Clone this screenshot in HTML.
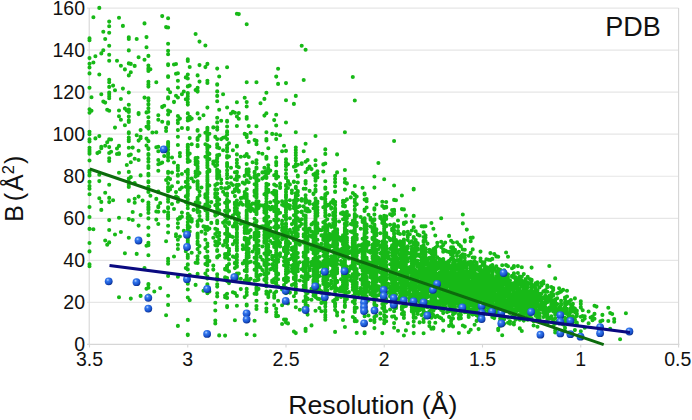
<!DOCTYPE html>
<html><head><meta charset="utf-8"><style>
html,body{margin:0;padding:0;background:#fff;}
svg{display:block;font-family:"Liberation Sans",sans-serif;}
</style></head><body>
<svg width="692" height="420" viewBox="0 0 692 420">
<path d="M87 302.36H678.6 M87 260.32H678.6 M87 218.29H678.6 M87 176.25H678.6 M87 134.21H678.6 M87 92.17H678.6 M87 50.14H678.6 M87 8.10H678.6" stroke="#e6e6e6" stroke-width="1.2" fill="none"/><path d="M89.2 8V344.40M87 344.40H679.5M678.6 8V344.40 M89.50 344.40V347.40 M187.75 344.40V347.40 M286.00 344.40V347.40 M384.25 344.40V347.40 M482.50 344.40V347.40 M580.75 344.40V347.40 M678.60 344.40V347.40" stroke="#d6d6d6" stroke-width="1.1" fill="none"/><g font-size="19.5" fill="#111"><text x="85" y="351.4" text-anchor="end">0</text><text x="85" y="309.4" text-anchor="end">20</text><text x="85" y="267.3" text-anchor="end">40</text><text x="85" y="225.3" text-anchor="end">60</text><text x="85" y="183.2" text-anchor="end">80</text><text x="85" y="141.2" text-anchor="end">100</text><text x="85" y="99.2" text-anchor="end">120</text><text x="85" y="57.1" text-anchor="end">140</text><text x="85" y="15.1" text-anchor="end">160</text><text x="89.5" y="366" text-anchor="middle">3.5</text><text x="187.8" y="366" text-anchor="middle">3</text><text x="286.0" y="366" text-anchor="middle">2.5</text><text x="384.2" y="366" text-anchor="middle">2</text><text x="482.5" y="366" text-anchor="middle">1.5</text><text x="580.8" y="366" text-anchor="middle">1</text><text x="677.8" y="366" text-anchor="middle">0.5</text></g>
<path d="M625.9 313.3h0 M620.1 339.2h0 M614.2 319.0h0 M614.2 321.7h0 M612.2 314.0h0 M610.2 313.0h0 M610.2 328.9h0 M608.3 307.8h0 M608.3 321.0h0 M602.4 314.9h0 M602.4 320.5h0 M600.4 321.4h0 M596.5 306.6h0 M594.5 313.9h0 M594.5 305.7h0 M594.5 318.8h0 M592.5 316.6h0 M592.5 320.2h0 M590.6 317.5h0 M588.6 323.2h0 M588.6 311.5h0 M584.7 327.7h0 M584.7 316.2h0 M584.7 318.6h0 M582.7 310.2h0 M582.7 316.0h0 M582.7 320.5h0 M580.8 307.6h0 M580.8 301.3h0 M580.8 303.9h0 M580.8 316.8h0 M580.8 307.1h0 M580.8 331.3h0 M576.8 314.3h0 M576.8 324.5h0 M576.8 316.0h0 M576.8 323.2h0 M576.8 310.5h0 M576.8 322.5h0 M576.8 310.9h0 M576.8 313.5h0 M574.9 309.4h0 M574.9 319.4h0 M574.9 308.5h0 M574.9 298.4h0 M574.9 312.1h0 M574.9 310.1h0 M574.9 330.1h0 M572.9 307.5h0 M572.9 303.9h0 M572.9 311.2h0 M572.9 311.3h0 M572.9 316.4h0 M572.9 322.3h0 M572.9 308.2h0 M570.9 304.5h0 M570.9 300.0h0 M570.9 307.9h0 M570.9 316.4h0 M570.9 318.2h0 M570.9 310.4h0 M570.9 309.3h0 M570.9 312.0h0 M569.0 316.0h0 M569.0 316.8h0 M569.0 314.7h0 M569.0 301.5h0 M567.0 302.2h0 M567.0 313.9h0 M567.0 322.9h0 M567.0 303.4h0 M567.0 290.8h0 M567.0 311.0h0 M567.0 312.6h0 M567.0 303.9h0 M567.0 319.3h0 M567.0 308.9h0 M567.0 296.5h0 M567.0 311.9h0 M565.0 331.3h0 M565.0 297.5h0 M565.0 313.0h0 M565.0 299.3h0 M565.0 320.7h0 M565.0 304.1h0 M565.0 302.3h0 M565.0 306.4h0 M565.0 309.9h0 M565.0 311.6h0 M565.0 317.7h0 M565.0 327.9h0 M563.1 321.6h0 M563.1 289.9h0 M563.1 309.2h0 M563.1 311.1h0 M563.1 324.5h0 M561.1 311.0h0 M561.1 309.1h0 M561.1 313.3h0 M561.1 300.7h0 M561.1 308.5h0 M561.1 314.0h0 M561.1 305.1h0 M561.1 315.9h0 M561.1 318.6h0 M561.1 303.5h0 M561.1 317.0h0 M561.1 291.6h0 M561.1 309.4h0 M559.1 312.6h0 M559.1 307.5h0 M559.1 309.7h0 M559.1 292.6h0 M559.1 288.2h0 M557.2 321.7h0 M557.2 312.4h0 M557.2 298.3h0 M557.2 293.6h0 M557.2 310.0h0 M557.2 304.1h0 M557.2 313.3h0 M555.2 303.5h0 M555.2 309.9h0 M555.2 318.2h0 M555.2 330.6h0 M555.2 310.6h0 M555.2 299.5h0 M555.2 314.2h0 M555.2 314.5h0 M555.2 323.6h0 M555.2 332.5h0 M555.2 278.4h0 M555.2 300.8h0 M555.2 305.9h0 M555.2 308.5h0 M555.2 307.3h0 M555.2 302.6h0 M555.2 306.9h0 M553.2 326.2h0 M553.2 301.4h0 M553.2 288.1h0 M553.2 305.7h0 M553.2 289.5h0 M553.2 300.6h0 M553.2 304.9h0 M553.2 290.1h0 M553.2 294.4h0 M553.2 311.5h0 M553.2 310.0h0 M553.2 320.5h0 M553.2 308.6h0 M553.2 295.8h0 M551.3 318.2h0 M551.3 303.5h0 M551.3 317.7h0 M551.3 316.2h0 M551.3 296.1h0 M551.3 305.5h0 M551.3 292.7h0 M551.3 308.7h0 M551.3 296.7h0 M551.3 309.4h0 M551.3 308.1h0 M551.3 302.5h0 M551.3 307.5h0 M551.3 304.3h0 M551.3 287.0h0 M551.3 299.7h0 M551.3 300.0h0 M549.3 309.7h0 M549.3 309.8h0 M549.3 318.6h0 M549.3 266.0h0 M549.3 297.0h0 M549.3 311.0h0 M549.3 310.6h0 M549.3 295.7h0 M549.3 300.5h0 M549.3 307.6h0 M547.3 312.3h0 M547.3 318.9h0 M547.3 311.5h0 M547.3 309.7h0 M547.3 313.7h0 M547.3 291.8h0 M547.3 287.2h0 M547.3 317.9h0 M547.3 324.3h0 M547.3 297.6h0 M547.3 324.2h0 M547.3 316.5h0 M547.3 317.1h0 M547.3 301.7h0 M547.3 286.5h0 M547.3 317.6h0 M547.3 314.8h0 M547.3 285.5h0 M547.3 313.9h0 M547.3 302.2h0 M545.4 308.9h0 M545.4 298.4h0 M545.4 302.7h0 M545.4 301.8h0 M545.4 303.8h0 M545.4 307.2h0 M545.4 299.8h0 M545.4 322.7h0 M545.4 295.7h0 M545.4 301.5h0 M545.4 292.0h0 M545.4 314.2h0 M545.4 290.9h0 M545.4 290.2h0 M545.4 296.6h0 M543.4 304.3h0 M543.4 298.2h0 M543.4 303.9h0 M543.4 307.3h0 M543.4 307.8h0 M543.4 310.5h0 M543.4 283.5h0 M543.4 311.7h0 M543.4 291.2h0 M543.4 281.4h0 M543.4 310.9h0 M543.4 313.0h0 M543.4 305.1h0 M543.4 297.6h0 M543.4 317.0h0 M541.5 309.0h0 M541.5 303.1h0 M541.5 285.4h0 M541.5 282.8h0 M541.5 301.4h0 M541.5 299.2h0 M541.5 303.9h0 M541.5 283.8h0 M541.5 308.2h0 M541.5 302.4h0 M541.5 298.5h0 M541.5 303.7h0 M541.5 309.3h0 M541.5 297.4h0 M541.5 293.6h0 M541.5 308.3h0 M539.5 315.5h0 M539.5 318.9h0 M539.5 308.9h0 M539.5 306.8h0 M539.5 313.3h0 M539.5 287.5h0 M539.5 300.2h0 M539.5 309.7h0 M539.5 306.4h0 M539.5 296.2h0 M539.5 294.1h0 M539.5 296.8h0 M539.5 307.6h0 M539.5 322.1h0 M539.5 308.0h0 M537.5 296.1h0 M537.5 282.4h0 M537.5 290.6h0 M537.5 326.8h0 M537.5 317.7h0 M537.5 310.9h0 M537.5 314.2h0 M537.5 305.9h0 M537.5 299.1h0 M537.5 314.4h0 M537.5 283.3h0 M537.5 303.9h0 M537.5 303.4h0 M537.5 292.2h0 M537.5 284.7h0 M537.5 297.0h0 M537.5 294.4h0 M537.5 305.3h0 M537.5 296.6h0 M535.6 285.0h0 M535.6 310.1h0 M535.6 306.1h0 M535.6 315.7h0 M535.6 301.8h0 M535.6 283.3h0 M535.6 295.6h0 M535.6 308.9h0 M535.6 312.1h0 M535.6 304.3h0 M535.6 306.5h0 M535.6 299.0h0 M535.6 291.9h0 M535.6 288.5h0 M535.6 284.5h0 M535.6 297.6h0 M535.6 297.2h0 M533.6 321.2h0 M533.6 309.0h0 M533.6 293.2h0 M533.6 308.3h0 M533.6 303.5h0 M533.6 299.9h0 M533.6 325.5h0 M533.6 305.4h0 M533.6 291.8h0 M533.6 299.7h0 M533.6 296.8h0 M533.6 285.4h0 M533.6 307.5h0 M533.6 286.3h0 M533.6 312.0h0 M531.6 303.1h0 M531.6 289.1h0 M531.6 301.4h0 M531.6 310.2h0 M531.6 295.9h0 M531.6 290.2h0 M531.6 286.5h0 M531.6 280.7h0 M531.6 287.2h0 M531.6 293.4h0 M531.6 288.1h0 M531.6 311.8h0 M531.6 284.2h0 M531.6 298.7h0 M531.6 307.5h0 M531.6 306.2h0 M531.6 298.1h0 M531.6 310.9h0 M531.6 300.7h0 M531.6 293.1h0 M531.6 308.8h0 M531.6 302.1h0 M531.6 318.4h0 M531.6 267.6h0 M531.6 279.8h0 M531.6 284.8h0 M531.6 312.4h0 M529.7 291.1h0 M529.7 283.7h0 M529.7 306.6h0 M529.7 315.1h0 M529.7 308.3h0 M529.7 310.3h0 M529.7 291.6h0 M529.7 301.4h0 M529.7 295.6h0 M529.7 310.1h0 M529.7 303.4h0 M529.7 311.5h0 M529.7 297.6h0 M529.7 302.4h0 M529.7 304.7h0 M529.7 307.0h0 M529.7 279.1h0 M529.7 283.0h0 M529.7 316.3h0 M527.7 298.7h0 M527.7 315.2h0 M527.7 297.6h0 M527.7 303.2h0 M527.7 295.8h0 M527.7 305.2h0 M527.7 304.7h0 M527.7 313.6h0 M527.7 308.0h0 M527.7 314.4h0 M527.7 305.7h0 M527.7 315.6h0 M527.7 319.7h0 M527.7 282.8h0 M527.7 317.8h0 M527.7 276.9h0 M527.7 310.0h0 M527.7 287.3h0 M527.7 291.0h0 M527.7 299.0h0 M527.7 294.6h0 M527.7 292.4h0 M527.7 284.0h0 M525.7 295.0h0 M525.7 280.9h0 M525.7 301.6h0 M525.7 308.4h0 M525.7 304.3h0 M525.7 310.3h0 M525.7 286.7h0 M525.7 312.8h0 M525.7 298.3h0 M525.7 283.9h0 M525.7 313.5h0 M525.7 295.5h0 M525.7 292.3h0 M525.7 308.1h0 M525.7 288.9h0 M525.7 302.5h0 M525.7 292.8h0 M525.7 279.1h0 M525.7 279.8h0 M525.7 292.0h0 M525.7 281.5h0 M525.7 299.0h0 M525.7 307.3h0 M525.7 288.6h0 M525.7 297.5h0 M525.7 305.7h0 M523.8 298.9h0 M523.8 292.1h0 M523.8 314.2h0 M523.8 310.4h0 M523.8 302.2h0 M523.8 289.8h0 M523.8 311.7h0 M523.8 291.7h0 M523.8 287.8h0 M523.8 294.3h0 M523.8 290.4h0 M523.8 306.3h0 M523.8 305.9h0 M523.8 297.6h0 M523.8 294.2h0 M523.8 292.9h0 M523.8 302.6h0 M523.8 305.7h0 M523.8 288.6h0 M523.8 304.1h0 M523.8 302.9h0 M523.8 307.7h0 M523.8 312.3h0 M523.8 285.8h0 M523.8 301.3h0 M523.8 309.7h0 M523.8 274.1h0 M523.8 317.2h0 M523.8 282.1h0 M523.8 296.7h0 M523.8 300.7h0 M523.8 311.9h0 M523.8 320.6h0 M523.8 313.6h0 M523.8 291.1h0 M523.8 300.0h0 M523.8 316.2h0 M523.8 296.9h0 M521.8 292.2h0 M521.8 296.2h0 M521.8 276.7h0 M521.8 303.7h0 M521.8 286.3h0 M521.8 293.8h0 M521.8 302.0h0 M521.8 307.5h0 M521.8 293.3h0 M521.8 282.8h0 M521.8 312.9h0 M521.8 331.0h0 M521.8 299.9h0 M521.8 298.4h0 M521.8 306.0h0 M521.8 280.6h0 M521.8 318.3h0 M521.8 297.7h0 M521.8 267.2h0 M521.8 300.4h0 M519.8 314.1h0 M519.8 283.5h0 M519.8 295.8h0 M519.8 303.7h0 M519.8 302.8h0 M519.8 306.0h0 M519.8 328.4h0 M519.8 309.5h0 M519.8 316.1h0 M519.8 302.3h0 M519.8 304.5h0 M519.8 276.5h0 M519.8 284.7h0 M519.8 294.8h0 M519.8 310.3h0 M519.8 292.9h0 M519.8 299.7h0 M519.8 291.9h0 M519.8 289.2h0 M519.8 280.8h0 M519.8 316.6h0 M519.8 279.4h0 M519.8 319.7h0 M517.9 288.7h0 M517.9 305.9h0 M517.9 283.4h0 M517.9 298.8h0 M517.9 273.0h0 M517.9 297.9h0 M517.9 289.6h0 M517.9 305.0h0 M517.9 300.7h0 M517.9 310.2h0 M517.9 290.1h0 M517.9 293.0h0 M517.9 297.1h0 M517.9 308.4h0 M517.9 304.1h0 M517.9 301.4h0 M517.9 302.8h0 M517.9 290.5h0 M517.9 300.9h0 M517.9 279.2h0 M517.9 266.1h0 M517.9 308.1h0 M517.9 302.4h0 M517.9 296.3h0 M517.9 306.8h0 M517.9 287.9h0 M515.9 286.6h0 M515.9 298.7h0 M515.9 311.5h0 M515.9 303.2h0 M515.9 301.8h0 M515.9 283.9h0 M515.9 319.5h0 M515.9 277.3h0 M515.9 280.4h0 M515.9 285.9h0 M515.9 293.9h0 M515.9 312.4h0 M515.9 288.5h0 M515.9 296.2h0 M515.9 287.7h0 M515.9 310.7h0 M515.9 292.6h0 M515.9 292.9h0 M515.9 306.7h0 M515.9 281.1h0 M515.9 301.6h0 M515.9 278.8h0 M515.9 300.1h0 M515.9 297.6h0 M515.9 298.9h0 M515.9 294.3h0 M513.9 283.0h0 M513.9 311.5h0 M513.9 286.7h0 M513.9 304.7h0 M513.9 291.3h0 M513.9 324.4h0 M513.9 309.9h0 M513.9 277.6h0 M513.9 294.1h0 M513.9 310.5h0 M513.9 303.9h0 M513.9 285.1h0 M513.9 267.1h0 M513.9 298.0h0 M513.9 322.6h0 M513.9 312.8h0 M513.9 317.5h0 M513.9 312.5h0 M513.9 317.0h0 M513.9 273.2h0 M513.9 300.1h0 M513.9 296.3h0 M513.9 314.5h0 M513.9 303.0h0 M513.9 314.1h0 M513.9 301.9h0 M513.9 295.1h0 M513.9 293.1h0 M513.9 289.2h0 M513.9 295.9h0 M513.9 292.4h0 M513.9 274.0h0 M513.9 302.4h0 M513.9 303.7h0 M513.9 305.0h0 M513.9 266.0h0 M513.9 316.4h0 M513.9 301.0h0 M513.9 295.7h0 M513.9 297.4h0 M512.0 311.0h0 M512.0 306.7h0 M512.0 306.2h0 M512.0 301.8h0 M512.0 311.8h0 M512.0 309.6h0 M512.0 304.1h0 M512.0 286.0h0 M512.0 283.9h0 M512.0 308.7h0 M512.0 289.6h0 M512.0 294.2h0 M512.0 316.9h0 M512.0 284.6h0 M512.0 276.7h0 M512.0 288.8h0 M512.0 298.8h0 M512.0 303.5h0 M512.0 294.3h0 M512.0 275.7h0 M512.0 296.4h0 M512.0 268.3h0 M510.0 284.3h0 M510.0 293.2h0 M510.0 311.3h0 M510.0 312.7h0 M510.0 313.0h0 M510.0 291.0h0 M510.0 283.0h0 M510.0 310.5h0 M510.0 302.3h0 M510.0 280.6h0 M510.0 303.6h0 M510.0 288.2h0 M510.0 287.1h0 M510.0 293.7h0 M510.0 305.0h0 M510.0 295.3h0 M510.0 301.7h0 M510.0 293.9h0 M510.0 321.4h0 M510.0 299.2h0 M510.0 307.4h0 M510.0 297.4h0 M510.0 298.5h0 M510.0 288.7h0 M510.0 294.8h0 M510.0 300.7h0 M510.0 323.7h0 M510.0 285.9h0 M508.0 281.6h0 M508.0 296.3h0 M508.0 285.2h0 M508.0 266.2h0 M508.0 287.9h0 M508.0 298.2h0 M508.0 301.8h0 M508.0 294.1h0 M508.0 317.5h0 M508.0 277.0h0 M508.0 256.7h0 M508.0 282.1h0 M508.0 291.5h0 M508.0 307.9h0 M508.0 289.8h0 M508.0 289.0h0 M508.0 287.0h0 M508.0 279.5h0 M508.0 310.3h0 M508.0 310.0h0 M508.0 300.1h0 M508.0 322.8h0 M508.0 307.4h0 M508.0 289.7h0 M508.0 280.4h0 M508.0 304.6h0 M508.0 305.8h0 M508.0 296.9h0 M508.0 309.3h0 M508.0 274.5h0 M506.1 305.7h0 M506.1 302.1h0 M506.1 283.9h0 M506.1 292.4h0 M506.1 273.9h0 M506.1 292.1h0 M506.1 285.5h0 M506.1 303.7h0 M506.1 308.9h0 M506.1 311.1h0 M506.1 305.1h0 M506.1 287.7h0 M506.1 282.9h0 M506.1 278.6h0 M506.1 280.4h0 M506.1 290.4h0 M506.1 310.3h0 M506.1 304.4h0 M506.1 306.1h0 M506.1 279.6h0 M506.1 295.9h0 M506.1 252.5h0 M506.1 279.1h0 M506.1 301.5h0 M506.1 286.1h0 M506.1 307.7h0 M506.1 265.1h0 M506.1 292.9h0 M506.1 295.4h0 M506.1 282.3h0 M506.1 294.7h0 M504.1 303.3h0 M504.1 288.5h0 M504.1 297.9h0 M504.1 295.4h0 M504.1 270.3h0 M504.1 272.8h0 M504.1 275.0h0 M504.1 305.6h0 M504.1 278.0h0 M504.1 297.7h0 M504.1 294.7h0 M504.1 309.5h0 M504.1 281.6h0 M504.1 300.6h0 M504.1 319.2h0 M504.1 303.9h0 M504.1 271.7h0 M504.1 304.8h0 M504.1 323.8h0 M504.1 317.8h0 M504.1 302.4h0 M504.1 279.2h0 M504.1 299.2h0 M504.1 292.2h0 M504.1 276.0h0 M504.1 292.5h0 M504.1 283.3h0 M504.1 308.4h0 M502.2 335.3h0 M502.2 300.4h0 M502.2 278.6h0 M502.2 296.1h0 M502.2 290.5h0 M502.2 296.6h0 M502.2 309.4h0 M502.2 302.8h0 M502.2 282.6h0 M502.2 294.1h0 M502.2 279.5h0 M502.2 280.1h0 M502.2 285.3h0 M502.2 299.6h0 M502.2 292.8h0 M502.2 307.6h0 M502.2 265.2h0 M502.2 301.8h0 M502.2 292.0h0 M502.2 289.0h0 M502.2 295.1h0 M502.2 276.9h0 M502.2 286.9h0 M502.2 305.6h0 M502.2 293.7h0 M502.2 315.5h0 M502.2 287.9h0 M502.2 297.2h0 M502.2 284.7h0 M502.2 292.3h0 M502.2 289.7h0 M502.2 319.9h0 M502.2 281.2h0 M502.2 306.3h0 M500.2 278.9h0 M500.2 292.7h0 M500.2 279.9h0 M500.2 325.7h0 M500.2 308.5h0 M500.2 280.5h0 M500.2 311.3h0 M500.2 312.8h0 M500.2 304.4h0 M500.2 285.5h0 M500.2 273.6h0 M500.2 297.5h0 M500.2 284.9h0 M500.2 293.6h0 M500.2 284.0h0 M500.2 275.8h0 M500.2 302.3h0 M500.2 301.6h0 M500.2 318.6h0 M500.2 290.6h0 M500.2 287.9h0 M500.2 296.7h0 M500.2 286.6h0 M500.2 299.6h0 M500.2 289.0h0 M500.2 302.0h0 M500.2 277.0h0 M500.2 320.5h0 M500.2 269.7h0 M500.2 308.0h0 M500.2 294.9h0 M500.2 276.6h0 M500.2 310.9h0 M500.2 278.2h0 M498.2 290.7h0 M498.2 274.1h0 M498.2 307.2h0 M498.2 292.1h0 M498.2 286.8h0 M498.2 276.8h0 M498.2 300.3h0 M498.2 307.7h0 M498.2 299.4h0 M498.2 328.7h0 M498.2 305.2h0 M498.2 269.5h0 M498.2 285.5h0 M498.2 287.6h0 M498.2 293.6h0 M498.2 309.4h0 M498.2 284.9h0 M498.2 301.4h0 M498.2 282.3h0 M498.2 289.3h0 M498.2 279.9h0 M498.2 296.0h0 M498.2 269.1h0 M498.2 297.8h0 M498.2 294.2h0 M498.2 283.3h0 M498.2 288.6h0 M498.2 281.4h0 M498.2 279.6h0 M498.2 270.4h0 M498.2 303.2h0 M498.2 256.7h0 M498.2 276.5h0 M498.2 298.5h0 M498.2 306.7h0 M498.2 290.1h0 M498.2 305.5h0 M498.2 291.4h0 M498.2 314.3h0 M498.2 330.1h0 M496.3 310.4h0 M496.3 279.6h0 M496.3 266.2h0 M496.3 285.5h0 M496.3 315.2h0 M496.3 311.7h0 M496.3 283.9h0 M496.3 287.3h0 M496.3 289.4h0 M496.3 277.7h0 M496.3 276.1h0 M496.3 300.2h0 M496.3 307.8h0 M496.3 271.9h0 M496.3 305.7h0 M496.3 306.4h0 M496.3 298.1h0 M496.3 286.7h0 M496.3 280.8h0 M496.3 297.2h0 M496.3 290.0h0 M496.3 298.7h0 M496.3 276.6h0 M496.3 284.6h0 M496.3 294.7h0 M496.3 302.0h0 M496.3 283.1h0 M496.3 307.5h0 M496.3 288.3h0 M496.3 301.7h0 M496.3 288.8h0 M496.3 256.4h0 M496.3 309.7h0 M496.3 281.5h0 M496.3 296.5h0 M496.3 284.9h0 M496.3 300.9h0 M494.3 292.7h0 M494.3 294.8h0 M494.3 300.4h0 M494.3 290.0h0 M494.3 296.5h0 M494.3 285.5h0 M494.3 254.0h0 M494.3 269.1h0 M494.3 318.1h0 M494.3 287.7h0 M494.3 298.9h0 M494.3 290.4h0 M494.3 313.1h0 M494.3 290.8h0 M494.3 305.3h0 M494.3 278.8h0 M494.3 287.1h0 M494.3 293.0h0 M494.3 286.1h0 M494.3 317.1h0 M494.3 281.2h0 M494.3 296.9h0 M494.3 308.2h0 M494.3 310.2h0 M494.3 311.6h0 M494.3 281.7h0 M494.3 294.1h0 M494.3 298.7h0 M492.3 316.9h0 M492.3 283.6h0 M492.3 279.5h0 M492.3 299.0h0 M492.3 278.4h0 M492.3 283.2h0 M492.3 302.6h0 M492.3 294.0h0 M492.3 303.1h0 M492.3 286.5h0 M492.3 275.5h0 M492.3 292.1h0 M492.3 280.7h0 M492.3 274.2h0 M492.3 296.0h0 M492.3 311.9h0 M492.3 265.0h0 M492.3 293.2h0 M492.3 299.5h0 M492.3 295.2h0 M492.3 277.8h0 M492.3 279.0h0 M492.3 305.2h0 M492.3 284.8h0 M492.3 258.9h0 M492.3 276.8h0 M492.3 297.6h0 M492.3 297.2h0 M492.3 266.3h0 M492.3 284.7h0 M492.3 308.7h0 M492.3 304.5h0 M492.3 274.7h0 M492.3 301.8h0 M492.3 307.5h0 M492.3 298.5h0 M492.3 300.2h0 M492.3 289.5h0 M492.3 287.9h0 M492.3 311.7h0 M492.3 266.8h0 M492.3 280.0h0 M492.3 290.1h0 M492.3 269.5h0 M492.3 295.6h0 M492.3 271.8h0 M492.3 283.8h0 M492.3 273.2h0 M492.3 301.3h0 M490.4 303.6h0 M490.4 283.9h0 M490.4 306.5h0 M490.4 295.2h0 M490.4 278.8h0 M490.4 292.6h0 M490.4 291.1h0 M490.4 296.5h0 M490.4 269.7h0 M490.4 293.3h0 M490.4 291.9h0 M490.4 308.5h0 M490.4 253.1h0 M490.4 295.6h0 M490.4 287.4h0 M490.4 277.5h0 M490.4 280.4h0 M490.4 290.1h0 M490.4 289.5h0 M490.4 298.5h0 M490.4 288.6h0 M490.4 278.5h0 M490.4 287.9h0 M490.4 304.0h0 M490.4 282.8h0 M490.4 266.4h0 M490.4 313.6h0 M490.4 283.5h0 M490.4 260.0h0 M490.4 304.5h0 M490.4 294.4h0 M490.4 268.8h0 M490.4 305.7h0 M490.4 299.5h0 M490.4 311.2h0 M490.4 281.9h0 M490.4 297.7h0 M490.4 296.2h0 M490.4 298.9h0 M490.4 276.3h0 M490.4 288.9h0 M490.4 293.9h0 M490.4 290.7h0 M488.4 271.4h0 M488.4 275.2h0 M488.4 270.2h0 M488.4 268.0h0 M488.4 311.1h0 M488.4 289.0h0 M488.4 312.3h0 M488.4 297.3h0 M488.4 306.9h0 M488.4 291.2h0 M488.4 294.0h0 M488.4 287.2h0 M488.4 305.2h0 M488.4 272.4h0 M488.4 295.2h0 M488.4 280.2h0 M488.4 283.0h0 M488.4 301.0h0 M488.4 298.6h0 M488.4 281.4h0 M488.4 274.6h0 M488.4 302.6h0 M488.4 290.6h0 M488.4 289.9h0 M488.4 273.0h0 M488.4 296.6h0 M488.4 259.7h0 M488.4 276.0h0 M488.4 275.3h0 M488.4 291.3h0 M488.4 289.6h0 M488.4 279.4h0 M488.4 269.0h0 M488.4 283.7h0 M488.4 308.1h0 M488.4 296.8h0 M488.4 309.9h0 M488.4 287.4h0 M488.4 269.3h0 M486.4 305.4h0 M486.4 281.7h0 M486.4 290.1h0 M486.4 299.3h0 M486.4 297.4h0 M486.4 292.2h0 M486.4 301.9h0 M486.4 267.9h0 M486.4 295.2h0 M486.4 288.0h0 M486.4 259.2h0 M486.4 298.4h0 M486.4 276.6h0 M486.4 307.0h0 M486.4 301.0h0 M486.4 313.8h0 M486.4 293.1h0 M486.4 296.3h0 M486.4 277.7h0 M486.4 270.5h0 M486.4 274.8h0 M486.4 285.5h0 M486.4 283.9h0 M486.4 273.4h0 M486.4 296.1h0 M486.4 297.0h0 M486.4 271.7h0 M486.4 272.5h0 M486.4 303.0h0 M486.4 267.1h0 M486.4 300.2h0 M486.4 273.8h0 M486.4 275.8h0 M484.5 282.3h0 M484.5 296.2h0 M484.5 289.0h0 M484.5 286.2h0 M484.5 309.0h0 M484.5 284.1h0 M484.5 310.5h0 M484.5 292.8h0 M484.5 281.2h0 M484.5 271.9h0 M484.5 293.9h0 M484.5 297.5h0 M484.5 308.6h0 M484.5 273.5h0 M484.5 298.4h0 M484.5 291.1h0 M484.5 295.5h0 M484.5 277.8h0 M484.5 277.5h0 M484.5 291.4h0 M484.5 282.9h0 M484.5 285.6h0 M484.5 294.9h0 M484.5 265.1h0 M484.5 269.2h0 M484.5 283.7h0 M484.5 281.4h0 M484.5 276.1h0 M484.5 313.6h0 M484.5 271.5h0 M484.5 266.1h0 M484.5 262.2h0 M484.5 290.2h0 M484.5 301.7h0 M484.5 300.7h0 M484.5 306.7h0 M484.5 288.0h0 M484.5 279.5h0 M482.5 292.0h0 M482.5 314.5h0 M482.5 271.5h0 M482.5 317.3h0 M482.5 304.8h0 M482.5 280.9h0 M482.5 276.9h0 M482.5 264.8h0 M482.5 272.6h0 M482.5 293.9h0 M482.5 270.7h0 M482.5 287.0h0 M482.5 305.6h0 M482.5 297.7h0 M482.5 294.6h0 M482.5 306.8h0 M482.5 281.4h0 M482.5 292.9h0 M482.5 296.0h0 M482.5 291.4h0 M482.5 306.4h0 M482.5 275.1h0 M482.5 314.9h0 M482.5 297.9h0 M482.5 290.0h0 M482.5 288.4h0 M482.5 262.4h0 M482.5 310.5h0 M482.5 288.9h0 M482.5 283.4h0 M480.5 297.6h0 M480.5 276.6h0 M480.5 300.4h0 M480.5 304.5h0 M480.5 280.0h0 M480.5 274.7h0 M480.5 302.9h0 M480.5 310.8h0 M480.5 314.0h0 M480.5 295.3h0 M480.5 295.1h0 M480.5 286.1h0 M480.5 286.4h0 M480.5 277.3h0 M480.5 281.8h0 M480.5 293.2h0 M480.5 289.4h0 M480.5 292.0h0 M480.5 303.9h0 M480.5 283.8h0 M480.5 290.8h0 M480.5 296.5h0 M480.5 258.5h0 M480.5 277.1h0 M480.5 288.0h0 M480.5 276.0h0 M480.5 251.6h0 M480.5 303.5h0 M480.5 286.9h0 M480.5 266.8h0 M480.5 260.9h0 M480.5 301.4h0 M480.5 271.1h0 M480.5 269.8h0 M480.5 268.8h0 M480.5 297.0h0 M480.5 273.3h0 M480.5 279.4h0 M480.5 290.7h0 M480.5 305.7h0 M480.5 288.4h0 M480.5 281.5h0 M480.5 272.3h0 M480.5 283.1h0 M480.5 316.0h0 M480.5 279.1h0 M478.6 274.2h0 M478.6 270.1h0 M478.6 288.1h0 M478.6 269.6h0 M478.6 277.6h0 M478.6 300.3h0 M478.6 292.2h0 M478.6 274.4h0 M478.6 284.0h0 M478.6 300.1h0 M478.6 296.8h0 M478.6 329.1h0 M478.6 303.9h0 M478.6 293.0h0 M478.6 267.6h0 M478.6 290.0h0 M478.6 302.7h0 M478.6 317.6h0 M478.6 268.0h0 M478.6 290.7h0 M478.6 294.0h0 M478.6 291.7h0 M478.6 288.7h0 M478.6 307.7h0 M478.6 290.8h0 M478.6 281.9h0 M478.6 276.8h0 M478.6 276.2h0 M478.6 275.0h0 M478.6 302.1h0 M478.6 315.8h0 M478.6 289.4h0 M478.6 306.2h0 M478.6 294.3h0 M478.6 305.1h0 M476.6 290.7h0 M476.6 305.8h0 M476.6 286.6h0 M476.6 315.3h0 M476.6 262.8h0 M476.6 282.1h0 M476.6 301.6h0 M476.6 295.8h0 M476.6 267.1h0 M476.6 292.2h0 M476.6 298.4h0 M476.6 290.2h0 M476.6 300.9h0 M476.6 293.7h0 M476.6 265.8h0 M476.6 283.8h0 M476.6 276.1h0 M476.6 282.9h0 M476.6 308.9h0 M476.6 296.3h0 M476.6 274.1h0 M476.6 294.7h0 M476.6 288.1h0 M476.6 277.0h0 M476.6 304.1h0 M476.6 303.1h0 M476.6 291.0h0 M476.6 263.5h0 M476.6 294.0h0 M476.6 307.5h0 M476.6 279.3h0 M476.6 289.2h0 M476.6 289.7h0 M476.6 278.2h0 M476.6 281.7h0 M476.6 280.5h0 M476.6 269.2h0 M476.6 312.0h0 M476.6 297.4h0 M476.6 320.9h0 M476.6 264.6h0 M474.6 265.5h0 M474.6 285.2h0 M474.6 274.3h0 M474.6 279.4h0 M474.6 295.9h0 M474.6 293.9h0 M474.6 267.9h0 M474.6 269.9h0 M474.6 312.4h0 M474.6 277.5h0 M474.6 257.6h0 M474.6 295.1h0 M474.6 287.1h0 M474.6 280.9h0 M474.6 261.4h0 M474.6 292.9h0 M474.6 324.7h0 M474.6 273.1h0 M474.6 314.0h0 M474.6 293.7h0 M474.6 308.0h0 M474.6 271.1h0 M474.6 273.6h0 M474.6 305.0h0 M474.6 267.7h0 M474.6 271.9h0 M474.6 295.4h0 M474.6 308.8h0 M474.6 313.4h0 M474.6 290.2h0 M474.6 297.9h0 M474.6 308.6h0 M474.6 296.6h0 M474.6 284.7h0 M474.6 297.5h0 M474.6 291.9h0 M472.7 237.6h0 M472.7 271.5h0 M472.7 265.3h0 M472.7 288.3h0 M472.7 289.0h0 M472.7 273.0h0 M472.7 302.1h0 M472.7 292.9h0 M472.7 305.0h0 M472.7 279.5h0 M472.7 274.6h0 M472.7 287.8h0 M472.7 292.3h0 M472.7 302.3h0 M472.7 309.0h0 M472.7 289.9h0 M472.7 277.1h0 M472.7 277.4h0 M472.7 309.7h0 M472.7 270.5h0 M472.7 267.0h0 M472.7 313.0h0 M472.7 282.1h0 M472.7 304.7h0 M472.7 289.6h0 M472.7 293.9h0 M472.7 264.8h0 M472.7 284.8h0 M472.7 303.3h0 M472.7 297.4h0 M472.7 275.0h0 M472.7 278.8h0 M472.7 292.2h0 M472.7 249.4h0 M472.7 262.4h0 M472.7 282.8h0 M472.7 262.2h0 M472.7 276.7h0 M472.7 257.5h0 M472.7 294.3h0 M472.7 269.2h0 M472.7 314.6h0 M472.7 299.0h0 M472.7 302.9h0 M472.7 291.6h0 M472.7 281.7h0 M472.7 296.3h0 M472.7 298.2h0 M470.7 304.8h0 M470.7 268.7h0 M470.7 271.9h0 M470.7 286.7h0 M470.7 300.4h0 M470.7 293.9h0 M470.7 286.1h0 M470.7 283.2h0 M470.7 291.1h0 M470.7 297.8h0 M470.7 274.7h0 M470.7 287.7h0 M470.7 283.5h0 M470.7 276.7h0 M470.7 284.3h0 M470.7 294.5h0 M470.7 291.4h0 M470.7 284.9h0 M470.7 312.9h0 M470.7 268.8h0 M470.7 273.4h0 M470.7 295.7h0 M470.7 301.8h0 M470.7 292.1h0 M470.7 261.9h0 M470.7 269.8h0 M470.7 288.5h0 M470.7 237.7h0 M470.7 298.9h0 M470.7 305.5h0 M470.7 274.0h0 M470.7 271.7h0 M470.7 329.8h0 M470.7 275.0h0 M470.7 241.3h0 M470.7 282.3h0 M470.7 266.4h0 M470.7 293.2h0 M470.7 310.7h0 M470.7 303.9h0 M470.7 252.9h0 M470.7 269.5h0 M470.7 275.5h0 M468.7 276.9h0 M468.7 284.6h0 M468.7 286.7h0 M468.7 303.8h0 M468.7 272.7h0 M468.7 279.0h0 M468.7 276.6h0 M468.7 282.9h0 M468.7 303.6h0 M468.7 332.2h0 M468.7 262.2h0 M468.7 287.4h0 M468.7 296.1h0 M468.7 286.2h0 M468.7 289.6h0 M468.7 290.5h0 M468.7 282.0h0 M468.7 275.8h0 M468.7 300.1h0 M468.7 297.8h0 M468.7 292.0h0 M468.7 278.0h0 M468.7 280.4h0 M468.7 315.3h0 M468.7 297.4h0 M468.7 306.9h0 M468.7 294.0h0 M468.7 287.9h0 M468.7 271.6h0 M468.7 308.5h0 M468.7 302.2h0 M468.7 312.5h0 M468.7 264.0h0 M468.7 317.0h0 M468.7 300.6h0 M468.7 290.1h0 M468.7 293.1h0 M468.7 295.4h0 M468.7 255.8h0 M468.7 301.7h0 M466.8 278.4h0 M466.8 284.8h0 M466.8 283.8h0 M466.8 282.5h0 M466.8 289.3h0 M466.8 310.9h0 M466.8 273.6h0 M466.8 280.1h0 M466.8 287.2h0 M466.8 271.8h0 M466.8 275.3h0 M466.8 292.4h0 M466.8 304.4h0 M466.8 285.6h0 M466.8 303.8h0 M466.8 265.4h0 M466.8 309.5h0 M466.8 264.6h0 M466.8 277.0h0 M466.8 287.3h0 M466.8 296.7h0 M466.8 312.0h0 M466.8 307.0h0 M466.8 275.9h0 M466.8 278.8h0 M466.8 271.6h0 M466.8 263.7h0 M466.8 288.2h0 M466.8 303.0h0 M466.8 293.7h0 M466.8 300.2h0 M466.8 271.2h0 M466.8 229.6h0 M466.8 298.3h0 M466.8 290.9h0 M466.8 267.9h0 M466.8 291.3h0 M464.8 260.9h0 M464.8 279.6h0 M464.8 272.3h0 M464.8 285.1h0 M464.8 273.1h0 M464.8 277.7h0 M464.8 254.7h0 M464.8 286.2h0 M464.8 291.2h0 M464.8 273.7h0 M464.8 326.6h0 M464.8 263.0h0 M464.8 294.9h0 M464.8 296.3h0 M464.8 280.3h0 M464.8 255.1h0 M464.8 271.2h0 M464.8 240.4h0 M464.8 241.6h0 M464.8 296.8h0 M464.8 278.5h0 M464.8 293.2h0 M464.8 303.7h0 M464.8 288.0h0 M464.8 303.9h0 M464.8 309.4h0 M464.8 281.5h0 M464.8 265.2h0 M464.8 284.1h0 M464.8 312.3h0 M464.8 265.4h0 M464.8 282.7h0 M464.8 287.1h0 M464.8 274.9h0 M464.8 301.8h0 M464.8 292.0h0 M464.8 266.2h0 M464.8 290.5h0 M464.8 299.6h0 M464.8 257.7h0 M464.8 249.7h0 M464.8 300.7h0 M464.8 267.1h0 M464.8 299.2h0 M464.8 275.9h0 M464.8 306.5h0 M462.8 273.0h0 M462.8 275.4h0 M462.8 285.6h0 M462.8 325.5h0 M462.8 274.9h0 M462.8 282.4h0 M462.8 299.3h0 M462.8 284.7h0 M462.8 270.3h0 M462.8 256.5h0 M462.8 305.3h0 M462.8 285.9h0 M462.8 249.5h0 M462.8 291.4h0 M462.8 254.2h0 M462.8 301.7h0 M462.8 281.6h0 M462.8 279.7h0 M462.8 269.2h0 M462.8 283.5h0 M462.8 271.9h0 M462.8 300.1h0 M462.8 303.1h0 M462.8 288.4h0 M462.8 304.3h0 M462.8 303.4h0 M462.8 267.1h0 M462.8 289.2h0 M462.8 296.5h0 M462.8 223.4h0 M462.8 281.1h0 M462.8 267.5h0 M462.8 288.0h0 M462.8 294.4h0 M462.8 254.8h0 M462.8 277.7h0 M462.8 284.8h0 M462.8 306.0h0 M462.8 281.8h0 M462.8 274.2h0 M462.8 266.2h0 M462.8 294.8h0 M462.8 284.2h0 M462.8 279.9h0 M462.8 295.5h0 M462.8 309.6h0 M462.8 308.0h0 M462.8 272.6h0 M462.8 278.8h0 M462.8 290.9h0 M462.8 307.5h0 M462.8 262.5h0 M462.8 214.5h0 M462.8 264.1h0 M462.8 292.7h0 M462.8 298.8h0 M460.9 286.1h0 M460.9 314.7h0 M460.9 289.7h0 M460.9 280.9h0 M460.9 259.4h0 M460.9 302.5h0 M460.9 285.1h0 M460.9 268.5h0 M460.9 266.4h0 M460.9 278.4h0 M460.9 258.4h0 M460.9 301.6h0 M460.9 287.7h0 M460.9 292.8h0 M460.9 256.6h0 M460.9 294.8h0 M460.9 276.9h0 M460.9 282.0h0 M460.9 288.6h0 M460.9 288.1h0 M460.9 267.5h0 M460.9 276.2h0 M460.9 286.3h0 M460.9 282.3h0 M460.9 271.9h0 M460.9 263.6h0 M460.9 263.1h0 M460.9 301.1h0 M460.9 271.5h0 M460.9 268.2h0 M460.9 289.2h0 M460.9 300.0h0 M460.9 262.4h0 M460.9 292.5h0 M460.9 279.7h0 M460.9 262.0h0 M460.9 257.5h0 M460.9 298.4h0 M460.9 308.0h0 M460.9 266.9h0 M460.9 246.4h0 M460.9 270.8h0 M460.9 312.1h0 M460.9 318.2h0 M460.9 297.0h0 M460.9 278.1h0 M460.9 285.4h0 M460.9 255.9h0 M460.9 291.2h0 M460.9 301.8h0 M460.9 294.3h0 M460.9 293.9h0 M458.9 287.6h0 M458.9 272.8h0 M458.9 280.2h0 M458.9 300.5h0 M458.9 283.6h0 M458.9 277.1h0 M458.9 333.0h0 M458.9 290.5h0 M458.9 292.4h0 M458.9 283.2h0 M458.9 300.2h0 M458.9 285.5h0 M458.9 261.2h0 M458.9 289.6h0 M458.9 267.7h0 M458.9 282.5h0 M458.9 298.4h0 M458.9 285.9h0 M458.9 279.6h0 M458.9 303.3h0 M458.9 267.8h0 M458.9 276.3h0 M458.9 290.1h0 M458.9 270.5h0 M458.9 265.5h0 M458.9 271.0h0 M458.9 288.5h0 M458.9 269.8h0 M458.9 260.0h0 M458.9 306.4h0 M458.9 302.7h0 M458.9 317.5h0 M458.9 275.4h0 M458.9 289.2h0 M458.9 291.0h0 M458.9 244.6h0 M458.9 286.3h0 M458.9 263.5h0 M458.9 295.8h0 M458.9 293.5h0 M458.9 318.6h0 M458.9 279.1h0 M458.9 284.4h0 M458.9 295.1h0 M458.9 272.7h0 M458.9 251.9h0 M458.9 314.4h0 M458.9 261.4h0 M458.9 274.6h0 M457.0 288.1h0 M457.0 265.6h0 M457.0 282.2h0 M457.0 298.1h0 M457.0 275.4h0 M457.0 269.4h0 M457.0 260.0h0 M457.0 310.6h0 M457.0 300.1h0 M457.0 281.1h0 M457.0 285.7h0 M457.0 242.2h0 M457.0 296.9h0 M457.0 303.3h0 M457.0 293.1h0 M457.0 300.9h0 M457.0 286.9h0 M457.0 277.2h0 M457.0 274.8h0 M457.0 256.0h0 M457.0 275.9h0 M457.0 253.7h0 M457.0 278.5h0 M455.0 275.9h0 M455.0 249.7h0 M455.0 282.4h0 M455.0 251.0h0 M455.0 297.7h0 M455.0 306.9h0 M455.0 265.8h0 M455.0 275.6h0 M455.0 282.9h0 M455.0 261.6h0 M455.0 299.4h0 M455.0 276.4h0 M455.0 304.9h0 M455.0 285.8h0 M455.0 289.1h0 M455.0 277.0h0 M455.0 288.1h0 M455.0 288.4h0 M455.0 263.7h0 M455.0 293.9h0 M455.0 293.1h0 M455.0 270.0h0 M455.0 296.8h0 M455.0 293.3h0 M455.0 298.8h0 M455.0 291.0h0 M455.0 280.5h0 M455.0 309.8h0 M455.0 271.2h0 M455.0 300.3h0 M455.0 279.5h0 M455.0 272.3h0 M455.0 268.7h0 M455.0 297.9h0 M455.0 313.0h0 M455.0 296.6h0 M455.0 278.8h0 M455.0 304.4h0 M455.0 281.5h0 M455.0 270.3h0 M455.0 261.9h0 M455.0 260.7h0 M455.0 281.9h0 M453.0 242.5h0 M453.0 292.3h0 M453.0 276.3h0 M453.0 276.8h0 M453.0 297.7h0 M453.0 247.2h0 M453.0 268.6h0 M453.0 293.8h0 M453.0 286.8h0 M453.0 306.5h0 M453.0 275.2h0 M453.0 286.2h0 M453.0 295.6h0 M453.0 290.8h0 M453.0 283.9h0 M453.0 310.7h0 M453.0 293.0h0 M453.0 271.1h0 M453.0 294.9h0 M453.0 258.9h0 M453.0 264.3h0 M453.0 298.3h0 M453.0 285.6h0 M453.0 302.1h0 M453.0 256.6h0 M453.0 326.4h0 M453.0 266.7h0 M453.0 272.0h0 M453.0 288.7h0 M453.0 314.6h0 M453.0 272.3h0 M453.0 268.2h0 M453.0 312.0h0 M453.0 291.4h0 M453.0 296.2h0 M453.0 298.0h0 M453.0 303.5h0 M453.0 289.0h0 M453.0 299.1h0 M453.0 282.7h0 M453.0 301.2h0 M453.0 318.5h0 M453.0 266.1h0 M453.0 300.0h0 M453.0 274.0h0 M453.0 260.5h0 M453.0 270.2h0 M453.0 253.6h0 M453.0 307.7h0 M453.0 280.6h0 M453.0 251.0h0 M453.0 301.3h0 M453.0 294.7h0 M453.0 279.9h0 M453.0 279.3h0 M453.0 297.1h0 M453.0 276.1h0 M453.0 277.5h0 M453.0 271.6h0 M453.0 250.1h0 M453.0 307.8h0 M453.0 263.0h0 M453.0 273.0h0 M451.1 240.7h0 M451.1 295.3h0 M451.1 281.9h0 M451.1 307.7h0 M451.1 277.3h0 M451.1 288.9h0 M451.1 287.9h0 M451.1 323.8h0 M451.1 296.3h0 M451.1 285.5h0 M451.1 247.4h0 M451.1 266.1h0 M451.1 287.6h0 M451.1 293.8h0 M451.1 296.9h0 M451.1 286.9h0 M451.1 294.7h0 M451.1 284.5h0 M451.1 279.9h0 M451.1 268.8h0 M451.1 247.8h0 M451.1 274.2h0 M451.1 281.3h0 M451.1 275.6h0 M451.1 302.6h0 M451.1 272.2h0 M451.1 299.0h0 M451.1 254.7h0 M451.1 274.9h0 M451.1 288.7h0 M451.1 274.6h0 M451.1 304.2h0 M451.1 282.8h0 M451.1 269.8h0 M451.1 283.7h0 M451.1 273.6h0 M451.1 308.1h0 M451.1 276.1h0 M451.1 292.9h0 M451.1 318.3h0 M451.1 321.0h0 M451.1 251.3h0 M451.1 286.5h0 M451.1 291.1h0 M451.1 258.9h0 M449.1 275.8h0 M449.1 292.6h0 M449.1 294.9h0 M449.1 284.3h0 M449.1 283.7h0 M449.1 251.7h0 M449.1 325.9h0 M449.1 273.0h0 M449.1 260.8h0 M449.1 285.0h0 M449.1 293.4h0 M449.1 286.6h0 M449.1 294.0h0 M449.1 291.2h0 M449.1 303.6h0 M449.1 275.5h0 M449.1 279.4h0 M449.1 302.9h0 M449.1 268.3h0 M449.1 261.7h0 M449.1 316.9h0 M449.1 265.0h0 M449.1 299.2h0 M449.1 252.1h0 M449.1 268.8h0 M449.1 267.0h0 M449.1 311.2h0 M449.1 267.4h0 M449.1 273.8h0 M449.1 300.5h0 M449.1 235.9h0 M449.1 279.0h0 M449.1 266.4h0 M449.1 291.4h0 M449.1 277.1h0 M449.1 305.7h0 M449.1 283.2h0 M447.1 284.1h0 M447.1 302.6h0 M447.1 293.1h0 M447.1 272.9h0 M447.1 278.9h0 M447.1 266.7h0 M447.1 286.9h0 M447.1 287.3h0 M447.1 262.4h0 M447.1 270.7h0 M447.1 312.1h0 M447.1 299.2h0 M447.1 276.0h0 M447.1 279.3h0 M447.1 276.5h0 M447.1 290.2h0 M447.1 295.9h0 M447.1 282.4h0 M447.1 285.1h0 M447.1 286.6h0 M447.1 291.7h0 M447.1 273.8h0 M447.1 274.5h0 M447.1 297.9h0 M447.1 268.9h0 M447.1 268.5h0 M447.1 279.8h0 M447.1 292.0h0 M447.1 251.5h0 M447.1 301.3h0 M445.2 285.1h0 M445.2 303.3h0 M445.2 297.1h0 M445.2 282.4h0 M445.2 282.1h0 M445.2 268.0h0 M445.2 289.5h0 M445.2 262.7h0 M445.2 242.6h0 M445.2 269.3h0 M445.2 265.2h0 M445.2 302.9h0 M445.2 285.6h0 M445.2 284.6h0 M445.2 307.1h0 M445.2 276.6h0 M445.2 296.5h0 M445.2 270.0h0 M445.2 268.4h0 M445.2 270.6h0 M445.2 270.9h0 M445.2 273.8h0 M445.2 278.8h0 M445.2 264.6h0 M445.2 279.6h0 M445.2 293.9h0 M445.2 301.6h0 M445.2 286.4h0 M445.2 299.0h0 M445.2 265.8h0 M445.2 283.8h0 M445.2 293.5h0 M445.2 297.3h0 M445.2 290.4h0 M445.2 294.9h0 M445.2 278.7h0 M445.2 266.7h0 M445.2 303.9h0 M445.2 304.3h0 M445.2 273.0h0 M445.2 277.1h0 M445.2 286.2h0 M445.2 250.6h0 M445.2 272.6h0 M443.2 302.3h0 M443.2 269.0h0 M443.2 295.5h0 M443.2 287.8h0 M443.2 267.1h0 M443.2 286.7h0 M443.2 261.4h0 M443.2 297.9h0 M443.2 285.5h0 M443.2 275.1h0 M443.2 275.5h0 M443.2 264.0h0 M443.2 294.7h0 M443.2 277.0h0 M443.2 281.7h0 M443.2 266.4h0 M443.2 301.7h0 M443.2 300.0h0 M443.2 273.2h0 M443.2 303.9h0 M443.2 287.1h0 M443.2 284.4h0 M443.2 259.1h0 M443.2 264.8h0 M443.2 268.1h0 M443.2 304.3h0 M443.2 280.3h0 M443.2 287.5h0 M443.2 291.8h0 M443.2 245.1h0 M443.2 310.2h0 M443.2 309.7h0 M443.2 270.3h0 M443.2 290.2h0 M443.2 302.9h0 M443.2 276.0h0 M443.2 263.7h0 M443.2 301.1h0 M443.2 276.3h0 M443.2 274.1h0 M443.2 274.5h0 M443.2 277.3h0 M443.2 284.0h0 M443.2 249.6h0 M443.2 282.6h0 M443.2 294.2h0 M443.2 290.9h0 M443.2 262.2h0 M443.2 291.5h0 M443.2 271.0h0 M443.2 313.1h0 M443.2 251.8h0 M443.2 289.7h0 M443.2 272.0h0 M443.2 305.1h0 M443.2 296.3h0 M443.2 278.7h0 M443.2 282.2h0 M443.2 298.6h0 M443.2 279.8h0 M443.2 320.4h0 M443.2 292.5h0 M443.2 261.0h0 M443.2 279.7h0 M443.2 283.4h0 M443.2 330.6h0 M443.2 265.9h0 M443.2 289.0h0 M443.2 262.6h0 M443.2 269.4h0 M443.2 260.7h0 M443.2 271.5h0 M443.2 299.4h0 M441.2 268.3h0 M441.2 287.6h0 M441.2 263.8h0 M441.2 283.5h0 M441.2 269.0h0 M441.2 267.9h0 M441.2 284.6h0 M441.2 275.0h0 M441.2 301.6h0 M441.2 270.6h0 M441.2 262.6h0 M441.2 283.9h0 M441.2 300.6h0 M441.2 261.3h0 M441.2 272.0h0 M441.2 275.6h0 M441.2 299.9h0 M441.2 266.8h0 M441.2 277.2h0 M441.2 280.2h0 M441.2 269.9h0 M441.2 293.7h0 M441.2 318.2h0 M441.2 263.5h0 M441.2 279.6h0 M441.2 260.0h0 M441.2 288.1h0 M441.2 310.0h0 M441.2 218.3h0 M441.2 308.1h0 M441.2 301.2h0 M441.2 281.7h0 M441.2 241.8h0 M441.2 297.2h0 M441.2 299.1h0 M441.2 281.8h0 M441.2 286.9h0 M441.2 282.3h0 M441.2 247.1h0 M439.3 261.5h0 M439.3 265.3h0 M439.3 277.9h0 M439.3 276.8h0 M439.3 287.7h0 M439.3 292.5h0 M439.3 276.2h0 M439.3 303.9h0 M439.3 279.6h0 M439.3 308.2h0 M439.3 259.0h0 M439.3 296.8h0 M439.3 307.2h0 M439.3 282.7h0 M439.3 296.1h0 M439.3 292.1h0 M439.3 304.4h0 M439.3 282.1h0 M439.3 290.5h0 M439.3 262.6h0 M439.3 317.2h0 M439.3 261.8h0 M439.3 277.6h0 M439.3 288.4h0 M439.3 285.1h0 M439.3 274.1h0 M439.3 302.3h0 M439.3 283.1h0 M439.3 305.6h0 M439.3 280.8h0 M439.3 272.9h0 M439.3 266.5h0 M439.3 284.0h0 M439.3 292.8h0 M439.3 287.9h0 M439.3 301.1h0 M437.3 265.3h0 M437.3 279.1h0 M437.3 295.3h0 M437.3 302.0h0 M437.3 278.1h0 M437.3 302.3h0 M437.3 301.4h0 M437.3 315.9h0 M437.3 276.4h0 M437.3 246.1h0 M437.3 279.6h0 M437.3 292.9h0 M437.3 281.0h0 M437.3 242.8h0 M437.3 286.3h0 M437.3 268.9h0 M437.3 303.6h0 M437.3 276.1h0 M437.3 294.3h0 M437.3 263.0h0 M437.3 286.0h0 M437.3 295.1h0 M437.3 284.8h0 M437.3 274.3h0 M437.3 257.4h0 M437.3 278.4h0 M437.3 290.8h0 M437.3 288.1h0 M437.3 285.5h0 M435.3 254.4h0 M435.3 285.8h0 M435.3 254.1h0 M435.3 277.7h0 M435.3 307.5h0 M435.3 291.1h0 M435.3 262.5h0 M435.3 322.8h0 M435.3 296.7h0 M435.3 299.1h0 M435.3 308.2h0 M435.3 277.2h0 M435.3 272.8h0 M435.3 274.3h0 M435.3 288.1h0 M435.3 296.2h0 M435.3 287.7h0 M435.3 283.9h0 M435.3 283.6h0 M435.3 251.0h0 M435.3 295.0h0 M435.3 303.4h0 M435.3 304.9h0 M435.3 268.8h0 M435.3 282.6h0 M435.3 266.4h0 M435.3 264.1h0 M435.3 268.0h0 M435.3 252.8h0 M435.3 265.4h0 M435.3 286.7h0 M435.3 248.5h0 M435.3 286.8h0 M435.3 291.6h0 M435.3 285.0h0 M435.3 260.2h0 M435.3 295.6h0 M435.3 278.1h0 M435.3 317.1h0 M435.3 247.9h0 M435.3 267.5h0 M435.3 306.1h0 M435.3 275.8h0 M435.3 281.7h0 M435.3 280.2h0 M435.3 282.0h0 M435.3 272.0h0 M435.3 235.5h0 M433.4 299.2h0 M433.4 262.3h0 M433.4 294.5h0 M433.4 284.3h0 M433.4 274.7h0 M433.4 296.6h0 M433.4 283.5h0 M433.4 283.9h0 M433.4 286.4h0 M433.4 269.0h0 M433.4 279.8h0 M433.4 293.1h0 M433.4 276.8h0 M433.4 281.0h0 M433.4 305.5h0 M433.4 270.8h0 M433.4 278.9h0 M433.4 281.5h0 M433.4 275.2h0 M433.4 256.2h0 M433.4 291.8h0 M433.4 315.4h0 M433.4 303.9h0 M433.4 282.6h0 M433.4 275.9h0 M433.4 296.0h0 M433.4 295.5h0 M433.4 300.5h0 M433.4 308.3h0 M433.4 273.8h0 M433.4 266.7h0 M433.4 304.5h0 M433.4 265.9h0 M433.4 285.6h0 M433.4 287.5h0 M433.4 263.1h0 M433.4 286.0h0 M433.4 273.0h0 M433.4 249.0h0 M433.4 267.9h0 M433.4 296.8h0 M433.4 328.6h0 M433.4 327.5h0 M433.4 285.0h0 M433.4 271.8h0 M433.4 294.9h0 M433.4 287.0h0 M433.4 257.0h0 M433.4 269.7h0 M433.4 267.5h0 M433.4 263.7h0 M433.4 257.9h0 M433.4 278.5h0 M433.4 252.6h0 M433.4 291.4h0 M433.4 272.6h0 M433.4 279.7h0 M433.4 265.5h0 M433.4 292.6h0 M433.4 273.5h0 M433.4 293.8h0 M433.4 264.5h0 M433.4 290.0h0 M433.4 254.4h0 M433.4 282.0h0 M433.4 266.9h0 M433.4 302.3h0 M433.4 310.8h0 M433.4 278.0h0 M433.4 307.5h0 M433.4 256.3h0 M433.4 228.8h0 M433.4 299.3h0 M433.4 259.5h0 M433.4 315.0h0 M433.4 258.7h0 M433.4 275.3h0 M433.4 298.2h0 M433.4 303.2h0 M431.4 251.9h0 M431.4 284.5h0 M431.4 288.7h0 M431.4 257.5h0 M431.4 261.2h0 M431.4 288.1h0 M431.4 308.9h0 M431.4 280.4h0 M431.4 273.1h0 M431.4 292.0h0 M431.4 262.0h0 M431.4 313.2h0 M431.4 285.7h0 M431.4 317.8h0 M431.4 262.6h0 M431.4 286.7h0 M431.4 297.6h0 M431.4 272.0h0 M431.4 292.3h0 M431.4 278.3h0 M431.4 285.0h0 M431.4 305.0h0 M431.4 301.1h0 M431.4 264.5h0 M431.4 295.4h0 M431.4 281.5h0 M431.4 289.0h0 M431.4 260.0h0 M431.4 283.1h0 M431.4 274.1h0 M431.4 267.9h0 M431.4 296.1h0 M431.4 277.4h0 M431.4 328.8h0 M431.4 296.9h0 M431.4 273.3h0 M431.4 251.0h0 M431.4 289.6h0 M431.4 257.2h0 M431.4 274.3h0 M431.4 282.2h0 M431.4 265.8h0 M431.4 289.8h0 M431.4 271.4h0 M431.4 223.0h0 M431.4 253.4h0 M431.4 269.9h0 M431.4 299.3h0 M431.4 281.1h0 M429.4 289.1h0 M429.4 304.4h0 M429.4 280.8h0 M429.4 311.2h0 M429.4 276.7h0 M429.4 272.9h0 M429.4 296.2h0 M429.4 257.9h0 M429.4 277.9h0 M429.4 271.1h0 M429.4 274.1h0 M429.4 316.9h0 M429.4 273.7h0 M429.4 322.4h0 M429.4 304.1h0 M429.4 302.4h0 M429.4 267.8h0 M429.4 290.4h0 M429.4 326.1h0 M429.4 290.8h0 M429.4 283.2h0 M429.4 249.8h0 M429.4 305.6h0 M429.4 265.3h0 M429.4 258.8h0 M429.4 285.7h0 M429.4 275.1h0 M429.4 275.9h0 M429.4 288.1h0 M429.4 252.0h0 M429.4 269.3h0 M427.5 272.9h0 M427.5 270.5h0 M427.5 264.8h0 M427.5 292.6h0 M427.5 286.8h0 M427.5 286.7h0 M427.5 268.0h0 M427.5 277.3h0 M427.5 294.6h0 M427.5 283.5h0 M427.5 301.7h0 M427.5 259.0h0 M427.5 291.8h0 M427.5 313.0h0 M427.5 307.3h0 M427.5 283.2h0 M427.5 269.2h0 M427.5 273.7h0 M427.5 285.6h0 M427.5 280.9h0 M427.5 303.3h0 M427.5 291.4h0 M427.5 293.0h0 M427.5 243.6h0 M427.5 297.1h0 M427.5 261.9h0 M427.5 280.5h0 M427.5 284.5h0 M427.5 259.4h0 M427.5 262.7h0 M425.5 298.7h0 M425.5 289.2h0 M425.5 273.1h0 M425.5 251.5h0 M425.5 254.8h0 M425.5 299.8h0 M425.5 268.4h0 M425.5 305.2h0 M425.5 269.4h0 M425.5 288.7h0 M425.5 270.0h0 M425.5 249.5h0 M425.5 285.9h0 M425.5 302.3h0 M425.5 275.2h0 M425.5 257.1h0 M425.5 252.8h0 M425.5 281.5h0 M425.5 305.8h0 M425.5 274.4h0 M425.5 279.6h0 M425.5 271.1h0 M425.5 272.0h0 M425.5 271.7h0 M425.5 301.9h0 M425.5 284.7h0 M425.5 289.6h0 M425.5 264.3h0 M425.5 273.8h0 M425.5 260.2h0 M425.5 248.2h0 M425.5 296.4h0 M425.5 281.2h0 M425.5 298.0h0 M425.5 257.3h0 M425.5 277.3h0 M425.5 240.8h0 M425.5 263.8h0 M425.5 226.2h0 M425.5 237.5h0 M425.5 276.2h0 M425.5 285.1h0 M425.5 235.2h0 M425.5 235.6h0 M425.5 312.9h0 M425.5 268.9h0 M425.5 276.6h0 M425.5 295.5h0 M425.5 280.6h0 M423.6 232.4h0 M423.6 268.2h0 M423.6 298.6h0 M423.6 270.7h0 M423.6 290.8h0 M423.6 283.1h0 M423.6 275.6h0 M423.6 293.4h0 M423.6 302.2h0 M423.6 283.5h0 M423.6 266.2h0 M423.6 265.4h0 M423.6 297.5h0 M423.6 251.6h0 M423.6 289.3h0 M423.6 266.9h0 M423.6 240.7h0 M423.6 264.0h0 M423.6 312.8h0 M423.6 277.4h0 M423.6 262.2h0 M423.6 253.4h0 M423.6 288.6h0 M423.6 241.0h0 M423.6 252.7h0 M423.6 262.6h0 M423.6 249.1h0 M423.6 226.4h0 M423.6 261.2h0 M423.6 292.8h0 M423.6 274.6h0 M423.6 321.9h0 M423.6 274.1h0 M423.6 245.6h0 M423.6 258.4h0 M423.6 278.6h0 M423.6 286.8h0 M423.6 275.0h0 M423.6 259.1h0 M423.6 269.1h0 M423.6 300.1h0 M423.6 282.1h0 M423.6 271.3h0 M423.6 247.8h0 M423.6 264.7h0 M423.6 308.3h0 M423.6 251.2h0 M423.6 294.8h0 M423.6 310.8h0 M423.6 319.1h0 M423.6 257.3h0 M423.6 256.5h0 M423.6 267.5h0 M423.6 319.3h0 M423.6 272.8h0 M423.6 272.1h0 M423.6 279.1h0 M423.6 242.0h0 M423.6 276.6h0 M423.6 288.0h0 M423.6 260.0h0 M423.6 249.5h0 M423.6 282.7h0 M423.6 291.3h0 M423.6 300.5h0 M423.6 278.0h0 M423.6 303.4h0 M423.6 272.4h0 M423.6 261.4h0 M423.6 263.1h0 M423.6 297.0h0 M423.6 290.5h0 M423.6 237.0h0 M423.6 269.6h0 M423.6 299.3h0 M423.6 286.2h0 M423.6 307.2h0 M423.6 280.5h0 M423.6 284.4h0 M423.6 276.1h0 M423.6 273.7h0 M423.6 260.6h0 M423.6 246.1h0 M423.6 266.5h0 M423.6 296.4h0 M423.6 271.2h0 M423.6 312.0h0 M423.6 286.6h0 M423.6 333.3h0 M423.6 249.9h0 M423.6 279.6h0 M423.6 291.9h0 M423.6 302.8h0 M421.6 251.2h0 M421.6 270.8h0 M421.6 278.6h0 M421.6 283.0h0 M421.6 259.3h0 M421.6 290.1h0 M421.6 226.2h0 M421.6 279.7h0 M421.6 283.3h0 M421.6 270.4h0 M421.6 315.1h0 M421.6 298.5h0 M421.6 286.0h0 M421.6 276.5h0 M421.6 293.6h0 M421.6 281.1h0 M421.6 250.6h0 M421.6 286.7h0 M421.6 260.2h0 M421.6 309.0h0 M421.6 274.2h0 M421.6 293.2h0 M421.6 296.6h0 M421.6 269.4h0 M421.6 288.5h0 M421.6 298.9h0 M421.6 297.5h0 M421.6 297.9h0 M421.6 262.9h0 M421.6 258.0h0 M421.6 308.1h0 M421.6 253.7h0 M421.6 302.3h0 M421.6 267.4h0 M421.6 294.9h0 M421.6 275.7h0 M421.6 249.1h0 M421.6 303.4h0 M421.6 294.5h0 M421.6 269.8h0 M421.6 280.6h0 M421.6 279.9h0 M421.6 265.9h0 M421.6 247.3h0 M421.6 265.6h0 M421.6 246.5h0 M419.6 270.7h0 M419.6 306.9h0 M419.6 284.7h0 M419.6 301.1h0 M419.6 273.1h0 M419.6 288.4h0 M419.6 288.9h0 M419.6 282.2h0 M419.6 269.0h0 M419.6 310.3h0 M419.6 270.0h0 M419.6 254.6h0 M419.6 293.7h0 M419.6 286.3h0 M419.6 272.1h0 M419.6 295.1h0 M419.6 275.1h0 M419.6 283.7h0 M419.6 268.6h0 M419.6 256.1h0 M419.6 263.7h0 M419.6 265.3h0 M419.6 322.4h0 M419.6 297.9h0 M419.6 286.8h0 M419.6 235.5h0 M419.6 276.3h0 M419.6 302.1h0 M419.6 282.3h0 M417.7 274.1h0 M417.7 266.8h0 M417.7 254.6h0 M417.7 314.0h0 M417.7 255.5h0 M417.7 293.8h0 M417.7 273.6h0 M417.7 281.0h0 M417.7 249.7h0 M417.7 263.9h0 M417.7 292.2h0 M417.7 311.9h0 M417.7 297.9h0 M417.7 278.2h0 M417.7 274.8h0 M417.7 287.0h0 M417.7 244.7h0 M417.7 306.9h0 M417.7 298.9h0 M417.7 279.1h0 M417.7 294.7h0 M417.7 248.5h0 M417.7 308.2h0 M417.7 260.7h0 M417.7 266.4h0 M417.7 277.1h0 M417.7 260.8h0 M417.7 243.4h0 M417.7 281.7h0 M417.7 234.6h0 M417.7 262.1h0 M415.7 317.7h0 M415.7 291.4h0 M415.7 300.4h0 M415.7 260.3h0 M415.7 309.9h0 M415.7 282.4h0 M415.7 289.8h0 M415.7 286.8h0 M415.7 263.4h0 M415.7 295.4h0 M415.7 287.4h0 M415.7 277.2h0 M415.7 240.1h0 M415.7 284.7h0 M415.7 273.7h0 M415.7 285.9h0 M415.7 280.6h0 M415.7 231.3h0 M415.7 253.2h0 M415.7 306.9h0 M415.7 248.2h0 M415.7 289.1h0 M415.7 282.0h0 M415.7 245.5h0 M415.7 270.3h0 M415.7 276.5h0 M415.7 253.5h0 M415.7 294.5h0 M415.7 248.6h0 M415.7 271.2h0 M415.7 271.8h0 M415.7 283.4h0 M415.7 278.1h0 M415.7 256.1h0 M415.7 296.6h0 M415.7 241.7h0 M415.7 301.0h0 M415.7 251.2h0 M415.7 283.2h0 M415.7 303.5h0 M415.7 275.6h0 M415.7 263.8h0 M415.7 284.8h0 M413.7 284.8h0 M413.7 243.3h0 M413.7 314.0h0 M413.7 280.3h0 M413.7 309.2h0 M413.7 255.4h0 M413.7 281.4h0 M413.7 288.2h0 M413.7 274.6h0 M413.7 298.6h0 M413.7 294.6h0 M413.7 297.6h0 M413.7 254.1h0 M413.7 294.2h0 M413.7 285.6h0 M413.7 261.4h0 M413.7 252.9h0 M413.7 254.6h0 M413.7 292.8h0 M413.7 277.6h0 M413.7 292.7h0 M413.7 215.9h0 M413.7 237.8h0 M413.7 321.6h0 M413.7 268.8h0 M413.7 295.0h0 M413.7 266.0h0 M413.7 244.7h0 M413.7 276.6h0 M413.7 306.4h0 M413.7 269.4h0 M413.7 302.5h0 M413.7 292.0h0 M413.7 273.4h0 M413.7 284.3h0 M413.7 300.6h0 M413.7 268.1h0 M413.7 250.7h0 M413.7 299.9h0 M413.7 227.4h0 M413.7 298.0h0 M413.7 301.2h0 M413.7 267.2h0 M413.7 289.3h0 M413.7 251.0h0 M413.7 317.7h0 M413.7 272.2h0 M413.7 333.1h0 M413.7 281.0h0 M413.7 310.7h0 M413.7 286.4h0 M413.7 259.3h0 M413.7 280.1h0 M413.7 251.4h0 M413.7 304.3h0 M413.7 262.3h0 M413.7 249.2h0 M413.7 314.8h0 M413.7 326.1h0 M413.7 290.0h0 M413.7 265.4h0 M413.7 253.6h0 M413.7 275.5h0 M413.7 267.7h0 M413.7 274.9h0 M413.7 290.6h0 M413.7 244.1h0 M413.7 283.8h0 M413.7 309.5h0 M413.7 287.6h0 M413.7 293.6h0 M413.7 237.0h0 M413.7 279.0h0 M413.7 251.9h0 M413.7 237.6h0 M413.7 270.7h0 M413.7 285.8h0 M413.7 301.7h0 M413.7 312.2h0 M413.7 270.9h0 M413.7 188.8h0 M413.7 263.5h0 M413.7 256.4h0 M413.7 276.9h0 M413.7 287.2h0 M413.7 276.2h0 M413.7 268.4h0 M413.7 305.2h0 M413.7 273.1h0 M413.7 189.5h0 M413.7 297.0h0 M413.7 296.4h0 M413.7 317.0h0 M413.7 271.7h0 M413.7 283.2h0 M413.7 255.1h0 M413.7 264.2h0 M413.7 256.0h0 M413.7 264.3h0 M411.8 246.5h0 M411.8 288.1h0 M411.8 268.5h0 M411.8 275.9h0 M411.8 251.6h0 M411.8 304.6h0 M411.8 268.8h0 M411.8 272.7h0 M411.8 288.8h0 M411.8 294.7h0 M411.8 268.1h0 M411.8 300.5h0 M411.8 287.4h0 M411.8 271.3h0 M411.8 306.9h0 M411.8 285.6h0 M411.8 281.7h0 M411.8 221.6h0 M411.8 280.4h0 M411.8 301.6h0 M411.8 267.0h0 M411.8 256.4h0 M411.8 255.8h0 M411.8 307.4h0 M411.8 278.5h0 M411.8 259.1h0 M411.8 309.9h0 M411.8 249.3h0 M411.8 263.7h0 M411.8 282.0h0 M411.8 269.5h0 M411.8 266.7h0 M411.8 311.5h0 M411.8 266.0h0 M411.8 230.5h0 M411.8 261.7h0 M411.8 260.2h0 M411.8 279.9h0 M411.8 272.9h0 M411.8 256.8h0 M411.8 241.3h0 M411.8 273.7h0 M411.8 287.2h0 M409.8 257.8h0 M409.8 285.0h0 M409.8 271.2h0 M409.8 298.2h0 M409.8 301.2h0 M409.8 253.5h0 M409.8 293.7h0 M409.8 279.1h0 M409.8 272.2h0 M409.8 299.1h0 M409.8 295.6h0 M409.8 298.5h0 M409.8 242.8h0 M409.8 234.2h0 M409.8 288.5h0 M409.8 290.8h0 M409.8 267.0h0 M409.8 283.7h0 M409.8 297.6h0 M407.8 275.9h0 M407.8 293.2h0 M407.8 267.8h0 M407.8 248.1h0 M407.8 231.7h0 M407.8 323.2h0 M407.8 270.0h0 M407.8 271.2h0 M407.8 246.4h0 M407.8 276.9h0 M407.8 275.0h0 M407.8 282.4h0 M407.8 240.1h0 M407.8 274.2h0 M407.8 261.5h0 M407.8 253.4h0 M407.8 278.7h0 M407.8 258.0h0 M407.8 259.1h0 M407.8 235.6h0 M407.8 232.2h0 M407.8 237.1h0 M407.8 252.3h0 M407.8 283.8h0 M407.8 272.0h0 M407.8 272.3h0 M407.8 285.5h0 M405.9 264.5h0 M405.9 292.6h0 M405.9 222.2h0 M405.9 291.3h0 M405.9 258.8h0 M405.9 279.0h0 M405.9 271.8h0 M405.9 298.0h0 M405.9 265.9h0 M405.9 255.8h0 M405.9 292.2h0 M405.9 284.3h0 M405.9 269.6h0 M405.9 261.0h0 M405.9 268.1h0 M405.9 251.5h0 M405.9 271.1h0 M405.9 330.4h0 M405.9 272.6h0 M405.9 288.3h0 M405.9 288.9h0 M405.9 289.4h0 M405.9 283.7h0 M405.9 287.9h0 M405.9 284.0h0 M405.9 249.4h0 M405.9 293.7h0 M405.9 215.6h0 M405.9 265.7h0 M405.9 270.2h0 M405.9 248.5h0 M405.9 285.3h0 M405.9 282.8h0 M405.9 280.7h0 M405.9 274.2h0 M405.9 305.9h0 M405.9 296.1h0 M403.9 224.0h0 M403.9 222.9h0 M403.9 276.4h0 M403.9 280.8h0 M403.9 273.1h0 M403.9 281.9h0 M403.9 232.0h0 M403.9 272.4h0 M403.9 268.1h0 M403.9 285.2h0 M403.9 303.1h0 M403.9 290.8h0 M403.9 300.9h0 M403.9 267.0h0 M403.9 263.8h0 M403.9 246.5h0 M403.9 290.4h0 M403.9 302.6h0 M403.9 263.2h0 M403.9 232.3h0 M403.9 288.9h0 M403.9 261.3h0 M403.9 273.8h0 M403.9 284.3h0 M403.9 283.9h0 M403.9 291.8h0 M403.9 259.9h0 M403.9 256.4h0 M403.9 278.8h0 M403.9 277.7h0 M403.9 297.4h0 M403.9 266.3h0 M403.9 298.4h0 M403.9 243.0h0 M403.9 295.6h0 M403.9 243.6h0 M403.9 299.1h0 M403.9 271.2h0 M403.9 296.3h0 M403.9 274.6h0 M403.9 276.1h0 M403.9 281.7h0 M403.9 239.5h0 M403.9 262.7h0 M403.9 271.4h0 M403.9 258.7h0 M403.9 234.1h0 M403.9 269.9h0 M403.9 283.4h0 M403.9 286.1h0 M403.9 241.0h0 M403.9 306.6h0 M403.9 306.1h0 M403.9 278.0h0 M403.9 277.0h0 M403.9 275.0h0 M403.9 233.7h0 M403.9 239.9h0 M403.9 249.1h0 M403.9 254.7h0 M403.9 253.8h0 M403.9 268.8h0 M403.9 282.4h0 M403.9 293.4h0 M403.9 298.1h0 M403.9 295.9h0 M403.9 253.2h0 M403.9 279.9h0 M403.9 275.3h0 M403.9 295.1h0 M403.9 251.2h0 M403.9 263.3h0 M403.9 314.9h0 M403.9 335.5h0 M403.9 292.7h0 M403.9 257.1h0 M403.9 317.9h0 M403.9 264.9h0 M403.9 252.5h0 M403.9 267.6h0 M403.9 312.4h0 M403.9 250.6h0 M403.9 265.8h0 M403.9 254.8h0 M403.9 289.6h0 M403.9 242.3h0 M403.9 261.0h0 M403.9 314.3h0 M403.9 245.4h0 M403.9 290.2h0 M403.9 294.6h0 M403.9 259.5h0 M403.9 305.7h0 M403.9 302.0h0 M403.9 244.6h0 M403.9 271.9h0 M403.9 297.0h0 M403.9 285.4h0 M403.9 209.4h0 M403.9 291.7h0 M401.9 264.2h0 M401.9 269.3h0 M401.9 299.3h0 M401.9 264.3h0 M401.9 301.8h0 M401.9 253.2h0 M401.9 313.9h0 M401.9 288.6h0 M401.9 257.7h0 M401.9 275.1h0 M401.9 259.8h0 M401.9 266.0h0 M401.9 242.7h0 M401.9 248.8h0 M401.9 246.6h0 M401.9 255.5h0 M401.9 195.5h0 M401.9 285.2h0 M401.9 209.1h0 M401.9 279.0h0 M401.9 271.4h0 M401.9 267.1h0 M401.9 284.5h0 M401.9 296.9h0 M401.9 291.1h0 M401.9 270.7h0 M401.9 246.9h0 M401.9 251.9h0 M401.9 309.6h0 M401.9 265.3h0 M401.9 293.9h0 M401.9 299.0h0 M401.9 256.4h0 M401.9 256.1h0 M401.9 277.2h0 M401.9 306.6h0 M401.9 307.8h0 M401.9 275.3h0 M401.9 283.0h0 M401.9 276.7h0 M401.9 251.4h0 M401.9 295.9h0 M401.9 289.2h0 M401.9 296.6h0 M401.9 250.5h0 M401.9 286.6h0 M401.9 291.3h0 M401.9 292.8h0 M401.9 270.8h0 M401.9 300.0h0 M401.9 273.2h0 M401.9 307.3h0 M401.9 290.6h0 M400.0 262.2h0 M400.0 262.5h0 M400.0 234.0h0 M400.0 264.2h0 M400.0 267.1h0 M400.0 299.1h0 M400.0 273.0h0 M400.0 277.8h0 M400.0 272.0h0 M400.0 257.9h0 M400.0 255.7h0 M400.0 293.3h0 M400.0 254.8h0 M400.0 296.4h0 M400.0 276.6h0 M400.0 287.6h0 M400.0 249.6h0 M400.0 299.8h0 M400.0 300.7h0 M400.0 279.1h0 M400.0 245.2h0 M400.0 282.1h0 M400.0 241.2h0 M398.0 242.9h0 M398.0 287.8h0 M398.0 290.4h0 M398.0 231.1h0 M398.0 266.8h0 M398.0 252.7h0 M398.0 266.3h0 M398.0 274.1h0 M398.0 286.3h0 M398.0 265.9h0 M398.0 261.6h0 M398.0 226.0h0 M398.0 286.1h0 M398.0 226.9h0 M398.0 220.5h0 M398.0 273.6h0 M398.0 233.3h0 M398.0 284.1h0 M398.0 299.4h0 M398.0 330.8h0 M398.0 258.7h0 M398.0 250.7h0 M398.0 279.0h0 M396.0 294.4h0 M396.0 274.5h0 M396.0 283.0h0 M396.0 262.9h0 M396.0 270.1h0 M396.0 261.0h0 M396.0 290.3h0 M396.0 268.7h0 M396.0 274.2h0 M396.0 299.3h0 M396.0 251.7h0 M396.0 253.7h0 M396.0 302.3h0 M396.0 307.9h0 M396.0 248.0h0 M396.0 256.8h0 M396.0 245.2h0 M396.0 256.1h0 M396.0 246.8h0 M396.0 245.5h0 M396.0 288.7h0 M396.0 276.1h0 M396.0 263.5h0 M396.0 288.8h0 M396.0 240.0h0 M396.0 200.2h0 M396.0 244.6h0 M396.0 259.8h0 M396.0 260.5h0 M396.0 279.7h0 M396.0 240.4h0 M396.0 266.9h0 M396.0 284.1h0 M396.0 318.6h0 M396.0 246.7h0 M396.0 289.5h0 M396.0 268.9h0 M396.0 257.8h0 M396.0 261.7h0 M396.0 245.9h0 M396.0 305.5h0 M396.0 272.0h0 M396.0 284.4h0 M396.0 273.2h0 M396.0 272.5h0 M396.0 306.1h0 M394.1 276.5h0 M394.1 282.8h0 M394.1 266.0h0 M394.1 262.2h0 M394.1 284.5h0 M394.1 269.2h0 M394.1 294.3h0 M394.1 274.0h0 M394.1 259.5h0 M394.1 311.3h0 M394.1 248.2h0 M394.1 246.1h0 M394.1 276.0h0 M394.1 293.9h0 M394.1 272.9h0 M394.1 261.5h0 M394.1 251.8h0 M394.1 287.6h0 M394.1 285.4h0 M394.1 291.1h0 M394.1 282.3h0 M394.1 306.1h0 M394.1 264.3h0 M394.1 213.9h0 M394.1 277.9h0 M394.1 293.7h0 M394.1 284.8h0 M394.1 272.5h0 M394.1 245.5h0 M394.1 296.1h0 M394.1 241.9h0 M394.1 264.9h0 M394.1 281.0h0 M394.1 267.8h0 M394.1 286.1h0 M394.1 251.1h0 M394.1 233.0h0 M394.1 260.4h0 M394.1 141.0h0 M394.1 249.0h0 M394.1 275.4h0 M394.1 279.6h0 M394.1 307.7h0 M394.1 288.0h0 M394.1 281.3h0 M394.1 266.3h0 M394.1 253.2h0 M394.1 225.0h0 M394.1 263.2h0 M394.1 293.1h0 M394.1 277.1h0 M394.1 258.9h0 M394.1 262.4h0 M394.1 209.9h0 M394.1 264.2h0 M394.1 225.6h0 M394.1 286.7h0 M394.1 243.6h0 M394.1 250.3h0 M394.1 256.5h0 M394.1 278.9h0 M394.1 267.1h0 M394.1 280.0h0 M394.1 288.5h0 M394.1 269.5h0 M394.1 199.9h0 M394.1 236.9h0 M394.1 292.3h0 M394.1 268.6h0 M394.1 265.5h0 M394.1 303.3h0 M394.1 211.3h0 M394.1 271.9h0 M394.1 298.4h0 M394.1 236.5h0 M394.1 255.4h0 M394.1 283.4h0 M394.1 254.7h0 M394.1 230.4h0 M394.1 297.6h0 M394.1 252.3h0 M394.1 255.9h0 M394.1 316.3h0 M394.1 302.8h0 M394.1 299.4h0 M394.1 289.3h0 M394.1 224.2h0 M394.1 323.1h0 M394.1 227.1h0 M394.1 267.7h0 M394.1 237.4h0 M394.1 257.7h0 M394.1 274.8h0 M394.1 226.3h0 M394.1 277.6h0 M394.1 240.3h0 M394.1 296.8h0 M394.1 280.7h0 M394.1 327.8h0 M394.1 248.3h0 M394.1 299.8h0 M394.1 301.3h0 M394.1 274.4h0 M394.1 291.8h0 M394.1 244.6h0 M394.1 297.8h0 M394.1 261.1h0 M394.1 249.5h0 M394.1 250.1h0 M394.1 241.0h0 M394.1 234.0h0 M394.1 185.5h0 M394.1 290.0h0 M394.1 246.4h0 M394.1 244.1h0 M392.1 259.1h0 M392.1 281.1h0 M392.1 250.3h0 M392.1 292.0h0 M392.1 253.0h0 M392.1 215.4h0 M392.1 272.1h0 M392.1 239.8h0 M392.1 277.7h0 M392.1 298.2h0 M392.1 270.2h0 M392.1 261.2h0 M392.1 316.6h0 M392.1 255.5h0 M392.1 283.3h0 M392.1 268.7h0 M392.1 250.0h0 M392.1 291.5h0 M392.1 282.2h0 M392.1 293.5h0 M392.1 277.2h0 M392.1 267.6h0 M392.1 265.5h0 M392.1 273.9h0 M392.1 245.4h0 M392.1 275.1h0 M392.1 230.2h0 M392.1 228.7h0 M392.1 214.0h0 M392.1 280.5h0 M392.1 291.0h0 M392.1 284.8h0 M392.1 246.4h0 M392.1 280.0h0 M392.1 264.7h0 M392.1 273.1h0 M392.1 279.2h0 M392.1 275.9h0 M392.1 299.6h0 M392.1 270.9h0 M392.1 271.5h0 M392.1 267.0h0 M392.1 293.2h0 M392.1 288.1h0 M392.1 260.3h0 M392.1 282.9h0 M392.1 282.4h0 M392.1 210.1h0 M392.1 292.4h0 M392.1 252.5h0 M390.1 288.3h0 M390.1 224.8h0 M390.1 287.0h0 M390.1 240.1h0 M390.1 278.7h0 M390.1 292.9h0 M390.1 259.0h0 M390.1 295.9h0 M390.1 214.2h0 M390.1 309.5h0 M390.1 238.9h0 M390.1 248.7h0 M390.1 264.2h0 M390.1 289.1h0 M390.1 296.5h0 M390.1 293.6h0 M390.1 276.4h0 M390.1 277.2h0 M390.1 274.6h0 M388.2 256.7h0 M388.2 252.4h0 M388.2 255.8h0 M388.2 237.5h0 M388.2 258.3h0 M388.2 269.7h0 M388.2 283.8h0 M388.2 292.2h0 M386.2 293.4h0 M386.2 264.9h0 M386.2 277.7h0 M386.2 216.4h0 M386.2 270.2h0 M386.2 257.5h0 M386.2 233.0h0 M386.2 267.3h0 M386.2 279.9h0 M386.2 261.7h0 M386.2 283.2h0 M386.2 274.9h0 M386.2 248.0h0 M386.2 226.2h0 M386.2 206.9h0 M386.2 234.3h0 M386.2 302.6h0 M386.2 316.8h0 M386.2 266.2h0 M386.2 299.0h0 M386.2 236.5h0 M386.2 253.0h0 M386.2 273.9h0 M386.2 275.6h0 M386.2 287.4h0 M386.2 321.2h0 M386.2 273.2h0 M386.2 252.6h0 M386.2 268.3h0 M386.2 218.9h0 M386.2 248.9h0 M386.2 311.3h0 M386.2 246.3h0 M386.2 245.7h0 M386.2 207.4h0 M386.2 242.2h0 M386.2 292.7h0 M386.2 277.9h0 M386.2 225.0h0 M386.2 301.6h0 M386.2 286.2h0 M386.2 285.7h0 M386.2 202.0h0 M386.2 288.2h0 M386.2 255.2h0 M384.2 298.6h0 M384.2 268.2h0 M384.2 261.0h0 M384.2 260.2h0 M384.2 315.1h0 M384.2 288.4h0 M384.2 284.0h0 M384.2 235.4h0 M384.2 228.9h0 M384.2 272.2h0 M384.2 231.1h0 M384.2 273.9h0 M384.2 289.2h0 M384.2 272.5h0 M384.2 265.7h0 M384.2 263.5h0 M384.2 242.7h0 M384.2 207.9h0 M384.2 255.6h0 M384.2 287.7h0 M384.2 258.9h0 M384.2 286.4h0 M384.2 252.2h0 M384.2 272.9h0 M384.2 219.0h0 M384.2 240.3h0 M384.2 297.2h0 M384.2 292.0h0 M384.2 284.9h0 M384.2 268.7h0 M384.2 293.1h0 M384.2 262.9h0 M384.2 233.7h0 M384.2 236.7h0 M384.2 215.7h0 M384.2 283.4h0 M384.2 269.6h0 M384.2 262.2h0 M384.2 253.7h0 M384.2 282.1h0 M384.2 246.2h0 M384.2 274.8h0 M384.2 267.3h0 M384.2 228.2h0 M384.2 252.5h0 M384.2 250.8h0 M384.2 275.6h0 M384.2 300.5h0 M384.2 238.3h0 M384.2 179.2h0 M384.2 269.8h0 M384.2 316.2h0 M384.2 241.1h0 M384.2 307.4h0 M384.2 285.4h0 M384.2 257.4h0 M384.2 270.3h0 M384.2 247.6h0 M384.2 265.9h0 M384.2 231.7h0 M384.2 279.4h0 M384.2 284.7h0 M384.2 219.7h0 M384.2 244.8h0 M384.2 277.0h0 M384.2 221.9h0 M384.2 301.9h0 M384.2 311.1h0 M384.2 264.9h0 M384.2 282.6h0 M384.2 241.3h0 M384.2 256.7h0 M384.2 264.7h0 M384.2 271.5h0 M384.2 248.4h0 M384.2 260.5h0 M384.2 254.1h0 M384.2 273.7h0 M384.2 301.5h0 M384.2 250.5h0 M384.2 261.3h0 M384.2 320.1h0 M384.2 258.4h0 M384.2 223.2h0 M384.2 269.1h0 M384.2 255.9h0 M384.2 217.6h0 M384.2 226.5h0 M384.2 279.8h0 M384.2 207.0h0 M384.2 320.3h0 M384.2 225.7h0 M384.2 249.6h0 M384.2 308.4h0 M384.2 240.2h0 M384.2 294.4h0 M384.2 248.9h0 M384.2 294.9h0 M384.2 285.9h0 M384.2 250.1h0 M384.2 281.4h0 M384.2 276.7h0 M384.2 286.8h0 M384.2 297.3h0 M384.2 302.7h0 M384.2 244.5h0 M384.2 281.1h0 M384.2 232.3h0 M384.2 259.5h0 M384.2 228.7h0 M384.2 257.2h0 M384.2 223.5h0 M384.2 306.2h0 M384.2 251.6h0 M384.2 230.2h0 M384.2 246.3h0 M384.2 254.7h0 M384.2 264.0h0 M384.2 290.9h0 M384.2 289.4h0 M384.2 301.2h0 M384.2 323.3h0 M384.2 235.1h0 M384.2 279.2h0 M382.3 298.6h0 M382.3 256.6h0 M382.3 206.0h0 M382.3 285.3h0 M382.3 241.5h0 M382.3 264.0h0 M382.3 268.5h0 M382.3 273.7h0 M382.3 283.6h0 M382.3 264.5h0 M382.3 244.4h0 M382.3 297.4h0 M382.3 271.0h0 M382.3 223.0h0 M382.3 201.8h0 M382.3 272.8h0 M382.3 251.4h0 M382.3 248.1h0 M382.3 255.3h0 M382.3 274.8h0 M382.3 278.7h0 M382.3 281.1h0 M382.3 260.5h0 M382.3 280.7h0 M382.3 272.0h0 M382.3 292.6h0 M382.3 266.7h0 M382.3 256.8h0 M382.3 267.6h0 M382.3 258.9h0 M382.3 304.1h0 M382.3 286.3h0 M382.3 220.6h0 M382.3 284.2h0 M382.3 258.0h0 M382.3 265.4h0 M382.3 259.9h0 M382.3 266.8h0 M382.3 308.0h0 M382.3 279.3h0 M382.3 299.5h0 M382.3 272.5h0 M382.3 244.1h0 M382.3 333.1h0 M382.3 274.6h0 M382.3 287.8h0 M382.3 265.9h0 M382.3 281.9h0 M380.3 263.6h0 M380.3 292.1h0 M380.3 218.1h0 M380.3 281.3h0 M380.3 261.0h0 M380.3 313.4h0 M380.3 246.5h0 M380.3 277.5h0 M380.3 259.9h0 M380.3 267.8h0 M380.3 216.6h0 M380.3 233.3h0 M380.3 318.7h0 M380.3 253.2h0 M380.3 272.5h0 M380.3 264.6h0 M380.3 294.4h0 M380.3 279.2h0 M378.4 270.8h0 M378.4 163.0h0 M378.4 244.6h0 M378.4 257.9h0 M378.4 249.2h0 M378.4 289.0h0 M378.4 295.3h0 M378.4 241.6h0 M378.4 286.2h0 M378.4 263.3h0 M378.4 278.8h0 M376.4 278.2h0 M376.4 204.5h0 M376.4 260.6h0 M376.4 275.0h0 M376.4 275.7h0 M376.4 288.1h0 M376.4 244.5h0 M376.4 268.9h0 M376.4 255.6h0 M376.4 282.0h0 M376.4 245.4h0 M376.4 263.7h0 M376.4 280.6h0 M376.4 232.7h0 M376.4 258.7h0 M376.4 279.4h0 M376.4 235.2h0 M376.4 267.4h0 M376.4 272.4h0 M376.4 264.1h0 M376.4 266.5h0 M376.4 273.5h0 M376.4 315.7h0 M376.4 242.5h0 M376.4 299.0h0 M376.4 291.0h0 M376.4 257.2h0 M376.4 285.7h0 M376.4 266.2h0 M376.4 261.2h0 M376.4 280.1h0 M376.4 271.0h0 M376.4 252.5h0 M376.4 295.2h0 M376.4 273.9h0 M376.4 229.4h0 M376.4 265.7h0 M376.4 250.0h0 M376.4 251.1h0 M376.4 270.2h0 M376.4 251.3h0 M376.4 249.5h0 M376.4 305.5h0 M376.4 287.7h0 M376.4 251.8h0 M376.4 240.5h0 M376.4 288.9h0 M374.4 242.3h0 M374.4 260.7h0 M374.4 256.7h0 M374.4 262.5h0 M374.4 273.5h0 M374.4 284.8h0 M374.4 322.1h0 M374.4 288.8h0 M374.4 280.3h0 M374.4 252.4h0 M374.4 256.8h0 M374.4 275.3h0 M374.4 300.1h0 M374.4 234.1h0 M374.4 230.7h0 M374.4 281.9h0 M374.4 281.7h0 M374.4 296.0h0 M374.4 328.1h0 M374.4 232.3h0 M374.4 265.5h0 M374.4 286.8h0 M374.4 266.4h0 M374.4 308.1h0 M374.4 262.2h0 M374.4 282.4h0 M374.4 285.6h0 M374.4 279.4h0 M374.4 285.9h0 M374.4 276.3h0 M374.4 275.8h0 M374.4 247.6h0 M374.4 244.8h0 M374.4 274.5h0 M374.4 276.8h0 M374.4 294.3h0 M374.4 265.0h0 M374.4 248.8h0 M374.4 283.3h0 M374.4 275.2h0 M374.4 267.7h0 M374.4 250.8h0 M374.4 272.8h0 M374.4 208.3h0 M374.4 209.6h0 M374.4 262.9h0 M374.4 286.4h0 M374.4 293.1h0 M374.4 309.5h0 M374.4 233.0h0 M374.4 219.6h0 M374.4 238.1h0 M374.4 263.4h0 M374.4 279.2h0 M374.4 230.9h0 M374.4 288.7h0 M374.4 235.7h0 M374.4 283.9h0 M374.4 284.4h0 M374.4 219.2h0 M374.4 261.2h0 M374.4 226.6h0 M374.4 292.0h0 M374.4 252.2h0 M374.4 255.4h0 M374.4 287.9h0 M374.4 267.9h0 M374.4 258.7h0 M374.4 224.5h0 M374.4 277.9h0 M374.4 269.3h0 M374.4 289.4h0 M374.4 273.9h0 M374.4 258.8h0 M374.4 299.3h0 M374.4 248.6h0 M374.4 214.6h0 M374.4 296.8h0 M374.4 300.8h0 M374.4 220.0h0 M374.4 239.2h0 M374.4 247.9h0 M374.4 187.6h0 M374.4 176.5h0 M374.4 281.1h0 M374.4 236.1h0 M374.4 253.4h0 M374.4 321.6h0 M374.4 229.4h0 M374.4 246.1h0 M374.4 303.5h0 M374.4 233.4h0 M374.4 271.8h0 M374.4 257.4h0 M374.4 244.5h0 M374.4 235.0h0 M374.4 246.6h0 M374.4 297.5h0 M374.4 304.5h0 M374.4 240.5h0 M374.4 250.2h0 M374.4 270.4h0 M374.4 266.1h0 M374.4 319.7h0 M374.4 225.5h0 M374.4 293.6h0 M374.4 317.1h0 M372.5 266.5h0 M372.5 287.2h0 M372.5 294.8h0 M372.5 282.5h0 M372.5 244.9h0 M372.5 285.4h0 M372.5 270.3h0 M372.5 295.5h0 M372.5 248.8h0 M372.5 231.5h0 M372.5 261.7h0 M372.5 291.9h0 M372.5 239.1h0 M372.5 274.7h0 M372.5 229.1h0 M372.5 252.3h0 M372.5 291.2h0 M372.5 250.5h0 M372.5 279.2h0 M372.5 247.3h0 M372.5 258.2h0 M372.5 293.8h0 M372.5 247.8h0 M372.5 272.6h0 M372.5 267.3h0 M372.5 277.5h0 M372.5 251.5h0 M372.5 275.1h0 M372.5 289.1h0 M372.5 262.2h0 M372.5 265.8h0 M372.5 265.5h0 M372.5 268.3h0 M372.5 256.3h0 M372.5 287.7h0 M372.5 275.5h0 M372.5 271.2h0 M372.5 222.8h0 M372.5 272.1h0 M372.5 258.3h0 M372.5 245.8h0 M372.5 237.9h0 M372.5 269.1h0 M372.5 220.3h0 M370.5 252.6h0 M370.5 268.2h0 M370.5 277.2h0 M370.5 265.2h0 M370.5 294.3h0 M370.5 219.7h0 M370.5 226.5h0 M370.5 264.5h0 M370.5 320.2h0 M370.5 250.7h0 M370.5 274.3h0 M370.5 274.2h0 M370.5 268.8h0 M370.5 263.1h0 M370.5 217.9h0 M370.5 251.3h0 M370.5 288.4h0 M370.5 275.1h0 M370.5 271.4h0 M370.5 269.4h0 M368.5 285.9h0 M368.5 282.6h0 M368.5 285.0h0 M368.5 214.7h0 M368.5 242.5h0 M368.5 299.9h0 M368.5 271.2h0 M368.5 285.5h0 M368.5 268.4h0 M368.5 283.7h0 M368.5 262.4h0 M368.5 291.4h0 M368.5 244.7h0 M368.5 267.8h0 M368.5 251.6h0 M368.5 265.2h0 M368.5 272.3h0 M368.5 315.5h0 M366.6 278.9h0 M366.6 243.8h0 M366.6 301.8h0 M366.6 268.4h0 M366.6 207.5h0 M366.6 199.1h0 M366.6 224.5h0 M366.6 280.3h0 M366.6 261.4h0 M366.6 258.9h0 M366.6 264.6h0 M366.6 229.3h0 M366.6 226.0h0 M366.6 311.4h0 M366.6 265.5h0 M366.6 296.2h0 M366.6 232.6h0 M366.6 281.6h0 M366.6 225.0h0 M366.6 201.2h0 M366.6 292.0h0 M366.6 290.5h0 M366.6 273.1h0 M366.6 257.8h0 M366.6 270.1h0 M366.6 282.0h0 M366.6 249.8h0 M366.6 276.7h0 M366.6 246.9h0 M366.6 269.0h0 M366.6 241.7h0 M366.6 261.1h0 M366.6 237.6h0 M366.6 242.9h0 M366.6 267.0h0 M366.6 244.3h0 M366.6 279.5h0 M366.6 246.6h0 M366.6 260.1h0 M366.6 287.9h0 M366.6 278.5h0 M366.6 262.4h0 M364.6 281.0h0 M364.6 279.2h0 M364.6 248.6h0 M364.6 238.5h0 M364.6 273.5h0 M364.6 249.9h0 M364.6 278.4h0 M364.6 255.3h0 M364.6 240.8h0 M364.6 243.5h0 M364.6 254.6h0 M364.6 228.4h0 M364.6 229.1h0 M364.6 219.2h0 M364.6 226.1h0 M364.6 276.3h0 M364.6 265.2h0 M364.6 287.4h0 M364.6 194.5h0 M364.6 283.2h0 M364.6 257.5h0 M364.6 261.9h0 M364.6 284.7h0 M364.6 289.7h0 M364.6 218.4h0 M364.6 277.6h0 M364.6 247.3h0 M364.6 270.8h0 M364.6 252.1h0 M364.6 295.5h0 M364.6 267.3h0 M364.6 286.8h0 M364.6 290.8h0 M364.6 253.6h0 M364.6 238.1h0 M364.6 311.3h0 M364.6 253.9h0 M364.6 280.7h0 M364.6 269.3h0 M364.6 292.5h0 M364.6 279.9h0 M364.6 259.0h0 M364.6 298.9h0 M364.6 264.6h0 M364.6 235.0h0 M364.6 332.4h0 M364.6 285.0h0 M364.6 252.3h0 M364.6 258.0h0 M364.6 234.2h0 M364.6 235.5h0 M364.6 303.3h0 M364.6 288.1h0 M364.6 246.6h0 M364.6 243.1h0 M364.6 270.5h0 M364.6 309.0h0 M364.6 310.9h0 M364.6 249.6h0 M364.6 228.0h0 M364.6 263.1h0 M364.6 282.6h0 M364.6 193.5h0 M364.6 268.0h0 M364.6 245.4h0 M364.6 291.8h0 M364.6 234.4h0 M364.6 260.3h0 M364.6 269.9h0 M364.6 278.1h0 M364.6 222.3h0 M364.6 316.2h0 M364.6 259.3h0 M364.6 261.4h0 M364.6 245.9h0 M364.6 273.9h0 M364.6 298.5h0 M364.6 256.7h0 M364.6 273.1h0 M364.6 310.7h0 M364.6 283.5h0 M364.6 221.7h0 M364.6 241.5h0 M364.6 243.8h0 M364.6 272.4h0 M364.6 236.5h0 M364.6 286.1h0 M364.6 221.0h0 M364.6 291.3h0 M364.6 290.0h0 M364.6 333.2h0 M364.6 266.3h0 M364.6 284.2h0 M364.6 251.0h0 M364.6 262.4h0 M364.6 266.8h0 M364.6 275.1h0 M364.6 248.0h0 M364.6 302.4h0 M364.6 263.9h0 M364.6 239.2h0 M364.6 276.9h0 M364.6 272.0h0 M364.6 230.2h0 M364.6 294.5h0 M364.6 240.3h0 M364.6 223.5h0 M364.6 199.6h0 M364.6 263.3h0 M364.6 233.0h0 M364.6 211.0h0 M364.6 276.0h0 M364.6 233.6h0 M364.6 303.9h0 M364.6 275.3h0 M364.6 279.3h0 M364.6 223.9h0 M364.6 209.5h0 M364.6 256.2h0 M364.6 246.9h0 M364.6 253.1h0 M364.6 288.5h0 M364.6 194.0h0 M364.6 242.1h0 M364.6 250.3h0 M362.6 256.2h0 M362.6 245.9h0 M362.6 274.4h0 M362.6 187.8h0 M362.6 280.4h0 M362.6 244.2h0 M362.6 260.9h0 M362.6 298.6h0 M362.6 281.5h0 M362.6 296.5h0 M362.6 267.2h0 M362.6 248.4h0 M362.6 221.9h0 M362.6 277.1h0 M362.6 281.9h0 M362.6 270.7h0 M362.6 220.2h0 M362.6 250.6h0 M362.6 291.7h0 M362.6 257.2h0 M362.6 294.3h0 M362.6 262.5h0 M362.6 267.4h0 M362.6 278.6h0 M362.6 284.4h0 M362.6 283.7h0 M362.6 251.3h0 M362.6 252.2h0 M362.6 267.8h0 M362.6 259.7h0 M362.6 238.7h0 M362.6 260.5h0 M362.6 280.1h0 M362.6 257.8h0 M362.6 254.1h0 M362.6 265.7h0 M362.6 269.9h0 M362.6 263.4h0 M362.6 278.2h0 M362.6 306.9h0 M362.6 251.0h0 M360.7 267.2h0 M360.7 288.0h0 M360.7 288.9h0 M360.7 228.8h0 M360.7 249.6h0 M360.7 217.0h0 M360.7 245.3h0 M360.7 291.6h0 M360.7 293.4h0 M360.7 266.6h0 M360.7 279.4h0 M358.7 291.9h0 M358.7 274.6h0 M358.7 262.4h0 M358.7 263.5h0 M358.7 252.1h0 M358.7 294.3h0 M358.7 245.4h0 M356.7 196.6h0 M356.7 292.9h0 M356.7 249.4h0 M356.7 269.1h0 M356.7 284.0h0 M356.7 222.9h0 M356.7 277.8h0 M356.7 291.5h0 M356.7 255.7h0 M356.7 278.3h0 M356.7 258.7h0 M356.7 261.1h0 M356.7 288.2h0 M356.7 282.3h0 M356.7 234.7h0 M356.7 238.1h0 M356.7 286.5h0 M356.7 226.1h0 M356.7 248.2h0 M356.7 275.8h0 M356.7 238.6h0 M356.7 204.2h0 M356.7 271.8h0 M356.7 321.1h0 M356.7 239.5h0 M356.7 248.4h0 M356.7 246.3h0 M356.7 273.1h0 M356.7 274.3h0 M356.7 216.0h0 M356.7 253.8h0 M356.7 307.7h0 M356.7 273.4h0 M356.7 332.9h0 M354.8 288.2h0 M354.8 100.5h0 M354.8 298.2h0 M354.8 255.5h0 M354.8 201.9h0 M354.8 247.9h0 M354.8 300.5h0 M354.8 244.2h0 M354.8 276.5h0 M354.8 209.9h0 M354.8 270.6h0 M354.8 264.5h0 M354.8 266.4h0 M354.8 268.3h0 M354.8 286.0h0 M354.8 217.5h0 M354.8 273.0h0 M354.8 264.0h0 M354.8 226.1h0 M354.8 233.8h0 M354.8 228.1h0 M354.8 249.9h0 M354.8 239.3h0 M354.8 234.9h0 M354.8 267.6h0 M354.8 311.1h0 M354.8 231.8h0 M354.8 265.5h0 M354.8 253.3h0 M354.8 271.0h0 M354.8 218.0h0 M354.8 238.2h0 M354.8 236.8h0 M354.8 296.9h0 M354.8 252.8h0 M354.8 259.9h0 M354.8 311.4h0 M354.8 292.0h0 M354.8 230.6h0 M354.8 273.7h0 M354.8 206.1h0 M354.8 240.8h0 M354.8 223.4h0 M354.8 261.0h0 M354.8 245.0h0 M354.8 321.1h0 M354.8 263.2h0 M354.8 246.4h0 M354.8 202.3h0 M354.8 293.0h0 M354.8 234.5h0 M354.8 250.7h0 M354.8 219.9h0 M354.8 246.1h0 M354.8 267.1h0 M354.8 283.6h0 M354.8 286.9h0 M354.8 251.7h0 M354.8 295.3h0 M354.8 259.4h0 M354.8 229.9h0 M354.8 215.4h0 M354.8 307.6h0 M354.8 242.7h0 M354.8 238.7h0 M354.8 186.0h0 M354.8 221.6h0 M354.8 303.7h0 M354.8 262.1h0 M354.8 225.2h0 M354.8 292.4h0 M354.8 256.8h0 M354.8 296.2h0 M354.8 272.0h0 M354.8 230.9h0 M354.8 291.7h0 M354.8 232.6h0 M354.8 239.1h0 M354.8 254.3h0 M354.8 243.0h0 M354.8 309.6h0 M354.8 240.7h0 M354.8 265.1h0 M354.8 216.7h0 M354.8 257.3h0 M354.8 282.8h0 M354.8 221.1h0 M354.8 308.8h0 M354.8 194.9h0 M354.8 299.4h0 M354.8 271.7h0 M354.8 262.6h0 M354.8 229.0h0 M354.8 227.5h0 M354.8 255.0h0 M354.8 247.5h0 M354.8 287.7h0 M354.8 244.4h0 M354.8 296.3h0 M354.8 279.1h0 M354.8 235.3h0 M354.8 278.1h0 M354.8 245.3h0 M354.8 290.5h0 M354.8 318.7h0 M354.8 312.0h0 M354.8 268.1h0 M354.8 282.6h0 M354.8 249.1h0 M354.8 263.4h0 M354.8 260.7h0 M354.8 321.3h0 M354.8 199.6h0 M354.8 270.1h0 M354.8 209.5h0 M354.8 214.4h0 M354.8 279.4h0 M354.8 214.0h0 M354.8 289.6h0 M354.8 277.4h0 M354.8 259.1h0 M354.8 258.3h0 M354.8 299.9h0 M354.8 224.3h0 M352.8 238.5h0 M352.8 280.0h0 M352.8 242.3h0 M352.8 281.3h0 M352.8 249.0h0 M352.8 254.4h0 M352.8 263.5h0 M352.8 274.1h0 M352.8 259.0h0 M352.8 264.6h0 M352.8 317.0h0 M352.8 248.1h0 M352.8 266.7h0 M352.8 287.3h0 M352.8 220.8h0 M352.8 260.4h0 M352.8 296.1h0 M352.8 268.8h0 M352.8 255.5h0 M352.8 252.9h0 M352.8 289.7h0 M352.8 284.6h0 M352.8 268.2h0 M352.8 246.2h0 M352.8 240.4h0 M352.8 282.1h0 M352.8 243.0h0 M352.8 276.0h0 M352.8 301.8h0 M352.8 231.2h0 M352.8 250.8h0 M352.8 244.1h0 M352.8 232.4h0 M352.8 262.2h0 M352.8 275.7h0 M352.8 237.9h0 M352.8 224.7h0 M352.8 77.0h0 M352.8 193.0h0 M350.8 277.3h0 M350.8 251.1h0 M350.8 280.6h0 M350.8 266.2h0 M350.8 267.9h0 M350.8 231.6h0 M350.8 197.4h0 M350.8 252.5h0 M350.8 224.0h0 M348.9 271.0h0 M348.9 275.9h0 M348.9 247.3h0 M348.9 253.3h0 M348.9 275.6h0 M348.9 270.6h0 M348.9 215.2h0 M348.9 292.1h0 M348.9 258.4h0 M348.9 251.2h0 M348.9 270.2h0 M346.9 299.0h0 M346.9 222.1h0 M346.9 277.2h0 M346.9 248.7h0 M346.9 284.4h0 M346.9 242.5h0 M346.9 279.4h0 M346.9 281.0h0 M346.9 199.4h0 M346.9 238.6h0 M346.9 211.9h0 M346.9 276.4h0 M346.9 256.8h0 M346.9 285.7h0 M346.9 255.9h0 M346.9 237.6h0 M346.9 254.9h0 M346.9 288.3h0 M346.9 233.4h0 M346.9 251.9h0 M346.9 269.5h0 M346.9 240.8h0 M346.9 218.3h0 M346.9 292.7h0 M346.9 216.1h0 M346.9 183.4h0 M346.9 240.0h0 M346.9 268.9h0 M346.9 280.0h0 M346.9 244.7h0 M346.9 266.6h0 M346.9 224.9h0 M346.9 273.1h0 M346.9 282.9h0 M346.9 230.7h0 M346.9 278.6h0 M346.9 251.5h0 M344.9 250.5h0 M344.9 273.2h0 M344.9 283.5h0 M344.9 224.6h0 M344.9 269.1h0 M344.9 284.2h0 M344.9 262.0h0 M344.9 279.0h0 M344.9 306.5h0 M344.9 271.1h0 M344.9 229.1h0 M344.9 201.1h0 M344.9 228.1h0 M344.9 216.0h0 M344.9 289.1h0 M344.9 275.4h0 M344.9 235.1h0 M344.9 231.4h0 M344.9 292.3h0 M344.9 282.5h0 M344.9 277.8h0 M344.9 267.6h0 M344.9 255.5h0 M344.9 213.7h0 M344.9 240.5h0 M344.9 214.0h0 M344.9 272.3h0 M344.9 274.0h0 M344.9 252.0h0 M344.9 275.1h0 M344.9 215.6h0 M344.9 287.1h0 M344.9 264.2h0 M344.9 247.8h0 M344.9 244.6h0 M344.9 242.4h0 M344.9 284.9h0 M344.9 264.5h0 M344.9 246.2h0 M344.9 266.9h0 M344.9 244.1h0 M344.9 268.0h0 M344.9 257.2h0 M344.9 227.3h0 M344.9 205.8h0 M344.9 206.4h0 M344.9 253.1h0 M344.9 237.5h0 M344.9 218.1h0 M344.9 266.2h0 M344.9 255.0h0 M344.9 282.1h0 M344.9 189.6h0 M344.9 230.5h0 M344.9 271.9h0 M344.9 223.5h0 M344.9 259.3h0 M344.9 253.6h0 M344.9 260.6h0 M344.9 327.0h0 M344.9 247.3h0 M344.9 297.8h0 M344.9 242.9h0 M344.9 263.0h0 M344.9 249.5h0 M344.9 241.3h0 M344.9 302.0h0 M344.9 215.1h0 M344.9 243.6h0 M344.9 245.3h0 M344.9 290.9h0 M344.9 256.7h0 M344.9 224.8h0 M344.9 307.0h0 M344.9 232.9h0 M344.9 265.4h0 M344.9 224.1h0 M344.9 231.8h0 M344.9 277.3h0 M344.9 219.5h0 M344.9 300.6h0 M344.9 276.8h0 M344.9 261.7h0 M344.9 259.2h0 M344.9 250.8h0 M344.9 179.0h0 M344.9 295.5h0 M344.9 214.5h0 M344.9 286.5h0 M344.9 238.4h0 M344.9 233.7h0 M344.9 257.5h0 M344.9 271.4h0 M344.9 276.7h0 M344.9 205.7h0 M344.9 236.0h0 M344.9 132.2h0 M344.9 246.7h0 M344.9 170.0h0 M344.9 240.2h0 M344.9 275.9h0 M344.9 278.6h0 M344.9 237.9h0 M344.9 280.7h0 M344.9 251.6h0 M344.9 182.4h0 M344.9 305.4h0 M344.9 236.4h0 M344.9 296.1h0 M344.9 234.7h0 M344.9 259.8h0 M344.9 248.5h0 M344.9 242.0h0 M344.9 241.1h0 M343.0 285.7h0 M343.0 268.1h0 M343.0 267.3h0 M343.0 240.5h0 M343.0 212.3h0 M343.0 267.2h0 M343.0 244.6h0 M343.0 284.6h0 M343.0 237.4h0 M343.0 235.4h0 M343.0 263.8h0 M343.0 263.2h0 M343.0 243.7h0 M343.0 270.1h0 M343.0 219.2h0 M343.0 206.0h0 M343.0 280.1h0 M343.0 202.7h0 M343.0 285.1h0 M343.0 270.8h0 M343.0 281.2h0 M343.0 282.6h0 M343.0 200.7h0 M343.0 264.8h0 M343.0 275.7h0 M343.0 214.3h0 M343.0 262.3h0 M343.0 270.4h0 M343.0 272.3h0 M343.0 269.4h0 M343.0 238.2h0 M343.0 271.5h0 M343.0 273.7h0 M343.0 311.7h0 M343.0 252.4h0 M343.0 257.3h0 M343.0 248.1h0 M343.0 288.8h0 M343.0 320.0h0 M343.0 276.0h0 M343.0 291.6h0 M343.0 251.6h0 M341.0 254.9h0 M341.0 291.3h0 M341.0 279.2h0 M341.0 261.1h0 M341.0 288.2h0 M341.0 297.0h0 M341.0 240.8h0 M341.0 252.4h0 M341.0 238.1h0 M341.0 213.4h0 M341.0 240.0h0 M341.0 287.2h0 M341.0 249.3h0 M341.0 264.4h0 M339.1 256.5h0 M339.1 251.5h0 M339.1 221.5h0 M339.1 237.4h0 M339.1 291.0h0 M339.1 289.4h0 M337.1 289.9h0 M337.1 237.1h0 M337.1 248.8h0 M337.1 234.1h0 M337.1 268.0h0 M337.1 280.8h0 M337.1 269.8h0 M337.1 315.4h0 M337.1 272.9h0 M337.1 264.2h0 M337.1 229.3h0 M337.1 230.8h0 M337.1 312.6h0 M337.1 240.1h0 M337.1 235.6h0 M337.1 260.4h0 M337.1 273.3h0 M337.1 249.5h0 M337.1 233.5h0 M337.1 253.6h0 M337.1 271.4h0 M337.1 282.3h0 M337.1 243.3h0 M337.1 288.5h0 M337.1 240.5h0 M337.1 251.2h0 M337.1 260.0h0 M337.1 297.3h0 M337.1 281.5h0 M337.1 229.9h0 M337.1 269.6h0 M337.1 232.3h0 M337.1 251.3h0 M337.1 154.4h0 M337.1 245.6h0 M337.1 248.4h0 M337.1 263.7h0 M337.1 230.3h0 M337.1 299.2h0 M337.1 259.5h0 M337.1 172.4h0 M337.1 244.2h0 M335.1 175.9h0 M335.1 201.8h0 M335.1 205.1h0 M335.1 230.5h0 M335.1 243.2h0 M335.1 228.8h0 M335.1 182.2h0 M335.1 186.2h0 M335.1 255.7h0 M335.1 286.8h0 M335.1 260.5h0 M335.1 284.0h0 M335.1 219.2h0 M335.1 271.3h0 M335.1 285.1h0 M335.1 306.6h0 M335.1 233.6h0 M335.1 288.9h0 M335.1 238.5h0 M335.1 215.2h0 M335.1 222.8h0 M335.1 251.1h0 M335.1 291.2h0 M335.1 253.0h0 M335.1 247.0h0 M335.1 224.4h0 M335.1 303.7h0 M335.1 279.9h0 M335.1 258.3h0 M335.1 294.5h0 M335.1 243.9h0 M335.1 267.9h0 M335.1 221.1h0 M335.1 210.8h0 M335.1 304.9h0 M335.1 216.1h0 M335.1 259.0h0 M335.1 261.1h0 M335.1 247.5h0 M335.1 299.6h0 M335.1 266.5h0 M335.1 208.4h0 M335.1 278.7h0 M335.1 264.0h0 M335.1 264.8h0 M335.1 238.9h0 M335.1 282.5h0 M335.1 235.0h0 M335.1 245.1h0 M335.1 274.8h0 M335.1 274.2h0 M335.1 250.4h0 M335.1 257.1h0 M335.1 282.1h0 M335.1 265.3h0 M335.1 262.0h0 M335.1 248.9h0 M335.1 262.9h0 M335.1 242.4h0 M335.1 258.0h0 M335.1 244.3h0 M335.1 239.3h0 M335.1 236.1h0 M335.1 261.3h0 M335.1 191.5h0 M335.1 215.4h0 M335.1 234.1h0 M335.1 288.0h0 M335.1 241.4h0 M335.1 280.9h0 M335.1 272.9h0 M335.1 284.6h0 M335.1 269.2h0 M335.1 273.3h0 M335.1 179.0h0 M335.1 331.9h0 M335.1 267.5h0 M335.1 202.4h0 M335.1 252.0h0 M335.1 233.0h0 M335.1 219.5h0 M335.1 271.1h0 M335.1 223.8h0 M335.1 262.6h0 M335.1 274.4h0 M335.1 231.9h0 M335.1 191.9h0 M335.1 310.0h0 M335.1 225.5h0 M335.1 270.6h0 M335.1 221.4h0 M335.1 212.8h0 M335.1 253.6h0 M335.1 218.4h0 M335.1 212.0h0 M335.1 223.4h0 M335.1 219.9h0 M335.1 204.7h0 M335.1 209.2h0 M335.1 250.0h0 M335.1 303.2h0 M335.1 293.9h0 M335.1 252.4h0 M335.1 277.4h0 M333.2 276.5h0 M333.2 246.1h0 M333.2 240.6h0 M333.2 234.5h0 M333.2 250.6h0 M333.2 203.1h0 M333.2 213.0h0 M333.2 270.0h0 M333.2 256.4h0 M333.2 265.3h0 M333.2 286.4h0 M333.2 272.1h0 M333.2 212.7h0 M333.2 259.5h0 M333.2 215.4h0 M333.2 257.4h0 M333.2 262.0h0 M333.2 243.4h0 M333.2 219.4h0 M333.2 258.5h0 M333.2 301.1h0 M333.2 266.0h0 M333.2 267.7h0 M333.2 251.8h0 M333.2 238.2h0 M333.2 260.2h0 M333.2 268.6h0 M333.2 232.0h0 M333.2 277.3h0 M333.2 270.4h0 M333.2 274.1h0 M333.2 269.1h0 M333.2 224.5h0 M333.2 275.5h0 M333.2 226.2h0 M333.2 200.1h0 M333.2 223.0h0 M331.2 288.4h0 M331.2 258.2h0 M331.2 237.9h0 M331.2 202.2h0 M331.2 265.1h0 M331.2 208.6h0 M331.2 227.0h0 M331.2 256.2h0 M331.2 246.3h0 M331.2 207.4h0 M331.2 283.3h0 M331.2 280.9h0 M331.2 274.8h0 M331.2 261.9h0 M331.2 234.9h0 M331.2 271.6h0 M329.2 275.7h0 M329.2 260.1h0 M329.2 245.5h0 M329.2 233.7h0 M329.2 215.1h0 M329.2 204.6h0 M329.2 250.0h0 M329.2 263.7h0 M329.2 224.3h0 M329.2 294.0h0 M329.2 284.9h0 M329.2 240.0h0 M329.2 249.6h0 M329.2 262.8h0 M329.2 235.3h0 M327.3 219.3h0 M327.3 243.1h0 M327.3 277.2h0 M327.3 286.1h0 M327.3 286.4h0 M327.3 264.3h0 M327.3 290.4h0 M327.3 242.5h0 M327.3 226.0h0 M327.3 251.7h0 M327.3 277.8h0 M327.3 258.9h0 M327.3 258.2h0 M327.3 266.6h0 M327.3 253.3h0 M327.3 235.5h0 M327.3 229.1h0 M327.3 278.6h0 M327.3 256.2h0 M327.3 248.1h0 M327.3 265.8h0 M327.3 279.4h0 M327.3 279.1h0 M327.3 272.2h0 M327.3 283.3h0 M327.3 205.6h0 M327.3 264.8h0 M327.3 262.7h0 M327.3 250.5h0 M327.3 193.1h0 M327.3 252.9h0 M327.3 237.5h0 M327.3 226.7h0 M327.3 268.7h0 M327.3 251.0h0 M327.3 230.5h0 M327.3 250.1h0 M325.3 253.1h0 M325.3 231.8h0 M325.3 284.4h0 M325.3 248.0h0 M325.3 224.5h0 M325.3 244.2h0 M325.3 195.8h0 M325.3 194.4h0 M325.3 290.0h0 M325.3 256.8h0 M325.3 265.2h0 M325.3 261.5h0 M325.3 255.3h0 M325.3 289.4h0 M325.3 250.1h0 M325.3 271.0h0 M325.3 245.2h0 M325.3 261.9h0 M325.3 240.1h0 M325.3 203.3h0 M325.3 283.0h0 M325.3 225.9h0 M325.3 255.0h0 M325.3 206.9h0 M325.3 246.4h0 M325.3 253.3h0 M325.3 272.1h0 M325.3 188.7h0 M325.3 181.3h0 M325.3 248.7h0 M325.3 203.1h0 M325.3 253.9h0 M325.3 238.5h0 M325.3 280.3h0 M325.3 247.6h0 M325.3 199.0h0 M325.3 226.9h0 M325.3 275.1h0 M325.3 229.8h0 M325.3 241.4h0 M325.3 272.7h0 M325.3 233.1h0 M325.3 259.5h0 M325.3 311.7h0 M325.3 235.5h0 M325.3 293.9h0 M325.3 274.0h0 M325.3 201.7h0 M325.3 288.1h0 M325.3 215.4h0 M325.3 287.5h0 M325.3 240.8h0 M325.3 263.1h0 M325.3 279.1h0 M325.3 278.6h0 M325.3 275.3h0 M325.3 240.4h0 M325.3 230.4h0 M325.3 277.1h0 M325.3 234.4h0 M325.3 286.3h0 M325.3 230.8h0 M325.3 163.5h0 M325.3 235.1h0 M325.3 231.7h0 M325.3 153.9h0 M325.3 292.0h0 M325.3 210.4h0 M325.3 187.6h0 M325.3 229.7h0 M325.3 266.8h0 M325.3 234.2h0 M325.3 315.0h0 M325.3 239.5h0 M325.3 249.4h0 M325.3 298.1h0 M325.3 205.1h0 M325.3 216.2h0 M325.3 215.2h0 M325.3 302.7h0 M325.3 282.3h0 M325.3 251.4h0 M325.3 317.3h0 M325.3 265.4h0 M325.3 295.2h0 M325.3 225.2h0 M325.3 257.6h0 M325.3 228.3h0 M325.3 202.0h0 M325.3 212.7h0 M325.3 306.6h0 M325.3 268.8h0 M325.3 285.7h0 M325.3 258.1h0 M325.3 263.7h0 M325.3 237.3h0 M325.3 260.9h0 M325.3 262.5h0 M325.3 245.7h0 M325.3 302.2h0 M325.3 226.4h0 M325.3 293.5h0 M325.3 303.8h0 M325.3 203.8h0 M325.3 310.0h0 M325.3 259.0h0 M325.3 274.5h0 M325.3 264.6h0 M325.3 227.4h0 M325.3 286.8h0 M325.3 207.5h0 M325.3 249.1h0 M325.3 271.5h0 M325.3 149.4h0 M325.3 195.7h0 M325.3 228.0h0 M325.3 268.4h0 M325.3 256.6h0 M325.3 244.5h0 M325.3 246.8h0 M325.3 300.1h0 M325.3 319.7h0 M325.3 221.1h0 M323.3 171.5h0 M323.3 300.5h0 M323.3 276.8h0 M323.3 279.2h0 M323.3 227.3h0 M323.3 238.9h0 M323.3 261.4h0 M323.3 222.2h0 M323.3 267.9h0 M323.3 198.5h0 M323.3 251.6h0 M323.3 281.1h0 M323.3 251.8h0 M323.3 235.1h0 M323.3 266.1h0 M323.3 263.4h0 M323.3 272.8h0 M323.3 250.7h0 M323.3 249.4h0 M323.3 164.4h0 M323.3 248.2h0 M323.3 298.8h0 M323.3 281.4h0 M323.3 237.3h0 M323.3 255.8h0 M323.3 264.1h0 M323.3 239.9h0 M323.3 284.0h0 M323.3 262.3h0 M323.3 269.7h0 M323.3 207.3h0 M323.3 267.7h0 M323.3 293.5h0 M321.4 311.3h0 M321.4 230.2h0 M321.4 264.9h0 M321.4 198.1h0 M321.4 302.9h0 M321.4 292.8h0 M321.4 272.3h0 M321.4 291.3h0 M321.4 246.9h0 M321.4 243.7h0 M321.4 235.4h0 M319.4 256.8h0 M319.4 289.8h0 M319.4 275.9h0 M319.4 262.2h0 M319.4 229.9h0 M319.4 291.2h0 M319.4 249.5h0 M319.4 250.4h0 M319.4 286.1h0 M319.4 246.1h0 M319.4 250.1h0 M319.4 267.0h0 M319.4 263.1h0 M319.4 308.0h0 M319.4 299.1h0 M317.4 276.9h0 M317.4 258.7h0 M317.4 284.1h0 M317.4 201.8h0 M317.4 229.0h0 M317.4 177.5h0 M317.4 280.9h0 M317.4 239.8h0 M317.4 230.4h0 M317.4 210.0h0 M317.4 215.7h0 M317.4 264.4h0 M317.4 203.2h0 M317.4 244.4h0 M317.4 251.7h0 M317.4 248.1h0 M317.4 267.7h0 M317.4 245.4h0 M317.4 212.7h0 M317.4 223.2h0 M317.4 257.7h0 M317.4 174.0h0 M317.4 265.3h0 M317.4 171.3h0 M317.4 259.0h0 M317.4 232.7h0 M317.4 231.2h0 M317.4 207.1h0 M317.4 260.4h0 M317.4 227.4h0 M317.4 271.7h0 M317.4 259.3h0 M317.4 249.5h0 M317.4 289.0h0 M317.4 274.3h0 M317.4 266.6h0 M317.4 229.3h0 M317.4 253.0h0 M317.4 201.6h0 M317.4 298.6h0 M317.4 277.7h0 M317.4 224.2h0 M317.4 287.4h0 M317.4 213.0h0 M317.4 269.8h0 M315.5 165.2h0 M315.5 224.6h0 M315.5 242.9h0 M315.5 210.0h0 M315.5 283.5h0 M315.5 225.8h0 M315.5 269.2h0 M315.5 252.5h0 M315.5 221.3h0 M315.5 272.3h0 M315.5 248.0h0 M315.5 238.8h0 M315.5 269.3h0 M315.5 273.6h0 M315.5 284.6h0 M315.5 267.3h0 M315.5 190.8h0 M315.5 173.9h0 M315.5 270.7h0 M315.5 244.6h0 M315.5 238.0h0 M315.5 226.7h0 M315.5 275.0h0 M315.5 257.7h0 M315.5 185.6h0 M315.5 240.8h0 M315.5 230.9h0 M315.5 136.0h0 M315.5 256.6h0 M315.5 245.0h0 M315.5 245.5h0 M315.5 198.5h0 M315.5 218.7h0 M315.5 253.9h0 M315.5 246.8h0 M315.5 219.6h0 M315.5 202.8h0 M315.5 268.0h0 M315.5 261.9h0 M315.5 266.7h0 M315.5 236.8h0 M315.5 219.9h0 M315.5 228.4h0 M315.5 260.1h0 M315.5 281.7h0 M315.5 176.8h0 M315.5 250.8h0 M315.5 232.6h0 M315.5 216.3h0 M315.5 261.4h0 M315.5 263.5h0 M315.5 255.5h0 M315.5 281.2h0 M315.5 240.3h0 M315.5 213.4h0 M315.5 257.2h0 M315.5 178.5h0 M315.5 227.1h0 M315.5 265.0h0 M315.5 236.0h0 M315.5 207.9h0 M315.5 215.4h0 M315.5 249.9h0 M315.5 261.2h0 M315.5 265.6h0 M315.5 217.9h0 M315.5 247.5h0 M315.5 251.9h0 M315.5 189.6h0 M315.5 280.3h0 M315.5 234.0h0 M315.5 266.2h0 M315.5 259.6h0 M315.5 173.3h0 M315.5 223.4h0 M315.5 211.5h0 M315.5 235.1h0 M315.5 248.9h0 M315.5 289.3h0 M315.5 191.5h0 M315.5 180.7h0 M315.5 230.3h0 M315.5 297.0h0 M315.5 291.9h0 M315.5 290.0h0 M315.5 241.3h0 M315.5 273.9h0 M315.5 227.5h0 M315.5 206.4h0 M315.5 225.1h0 M315.5 290.8h0 M315.5 201.9h0 M315.5 160.2h0 M315.5 287.5h0 M315.5 272.0h0 M315.5 268.7h0 M315.5 239.6h0 M315.5 267.2h0 M315.5 263.0h0 M315.5 288.8h0 M315.5 209.0h0 M315.5 244.2h0 M315.5 279.0h0 M315.5 243.6h0 M315.5 249.6h0 M315.5 251.4h0 M315.5 277.2h0 M315.5 222.3h0 M315.5 205.9h0 M315.5 276.4h0 M315.5 232.2h0 M315.5 273.0h0 M315.5 253.4h0 M315.5 294.7h0 M315.5 288.6h0 M315.5 310.7h0 M315.5 206.8h0 M315.5 269.8h0 M313.5 237.5h0 M313.5 250.2h0 M313.5 263.1h0 M313.5 204.2h0 M313.5 281.0h0 M313.5 248.9h0 M313.5 193.6h0 M313.5 276.1h0 M313.5 279.9h0 M313.5 253.2h0 M313.5 269.0h0 M313.5 281.9h0 M313.5 249.3h0 M313.5 295.7h0 M313.5 241.1h0 M313.5 232.8h0 M313.5 283.5h0 M313.5 194.1h0 M313.5 236.4h0 M313.5 242.7h0 M313.5 288.5h0 M313.5 286.5h0 M313.5 247.7h0 M313.5 208.2h0 M313.5 238.7h0 M313.5 260.8h0 M313.5 222.6h0 M313.5 274.6h0 M313.5 258.9h0 M313.5 271.6h0 M313.5 174.6h0 M313.5 250.7h0 M313.5 293.1h0 M313.5 262.5h0 M313.5 265.4h0 M311.5 290.9h0 M311.5 169.1h0 M311.5 262.1h0 M311.5 245.7h0 M311.5 236.0h0 M311.5 265.1h0 M311.5 263.7h0 M311.5 288.7h0 M311.5 231.6h0 M311.5 299.7h0 M311.5 325.4h0 M311.5 224.4h0 M311.5 236.8h0 M311.5 249.1h0 M309.6 201.5h0 M309.6 166.6h0 M309.6 190.9h0 M309.6 229.3h0 M309.6 270.3h0 M309.6 203.8h0 M309.6 235.6h0 M309.6 211.3h0 M309.6 244.5h0 M309.6 228.6h0 M309.6 268.4h0 M309.6 276.5h0 M307.6 168.9h0 M307.6 211.5h0 M307.6 247.7h0 M307.6 201.4h0 M307.6 279.2h0 M307.6 249.2h0 M307.6 299.3h0 M307.6 247.2h0 M307.6 276.2h0 M307.6 160.1h0 M307.6 208.9h0 M307.6 314.6h0 M307.6 239.3h0 M307.6 261.2h0 M307.6 251.7h0 M307.6 237.0h0 M307.6 292.9h0 M307.6 232.4h0 M307.6 250.4h0 M307.6 258.9h0 M307.6 251.0h0 M307.6 262.6h0 M307.6 305.9h0 M307.6 240.5h0 M307.6 262.1h0 M307.6 265.4h0 M307.6 262.8h0 M307.6 298.6h0 M307.6 229.9h0 M307.6 273.6h0 M305.6 188.8h0 M305.6 253.1h0 M305.6 255.9h0 M305.6 284.0h0 M305.6 223.9h0 M305.6 269.1h0 M305.6 226.8h0 M305.6 245.9h0 M305.6 267.7h0 M305.6 261.8h0 M305.6 254.6h0 M305.6 286.0h0 M305.6 281.3h0 M305.6 231.6h0 M305.6 228.1h0 M305.6 232.6h0 M305.6 279.0h0 M305.6 302.5h0 M305.6 279.5h0 M305.6 195.3h0 M305.6 272.2h0 M305.6 198.9h0 M305.6 328.7h0 M305.6 220.8h0 M305.6 252.5h0 M305.6 257.4h0 M305.6 217.0h0 M305.6 199.7h0 M305.6 181.1h0 M305.6 259.5h0 M305.6 296.7h0 M305.6 222.6h0 M305.6 235.2h0 M305.6 172.3h0 M305.6 253.6h0 M305.6 235.5h0 M305.6 258.0h0 M305.6 181.5h0 M305.6 274.5h0 M305.6 228.8h0 M305.6 217.7h0 M305.6 235.8h0 M305.6 248.0h0 M305.6 282.6h0 M305.6 268.0h0 M305.6 263.3h0 M305.6 267.0h0 M305.6 259.0h0 M305.6 225.3h0 M305.6 242.7h0 M305.6 270.7h0 M305.6 281.9h0 M305.6 226.7h0 M305.6 248.4h0 M305.6 240.2h0 M305.6 288.2h0 M305.6 208.2h0 M305.6 223.7h0 M305.6 202.2h0 M305.6 230.4h0 M305.6 264.0h0 M305.6 210.7h0 M305.6 292.0h0 M305.6 201.2h0 M305.6 329.4h0 M305.6 254.2h0 M305.6 243.8h0 M305.6 216.5h0 M305.6 202.6h0 M305.6 255.4h0 M305.6 238.0h0 M305.6 229.4h0 M305.6 208.8h0 M305.6 183.6h0 M305.6 227.3h0 M305.6 271.7h0 M305.6 242.2h0 M305.6 244.8h0 M305.6 215.6h0 M305.6 243.5h0 M305.6 218.9h0 M305.6 247.4h0 M305.6 280.1h0 M305.6 49.8h0 M305.6 238.9h0 M305.6 181.8h0 M305.6 249.6h0 M305.6 250.8h0 M305.6 269.5h0 M305.6 161.8h0 M305.6 241.6h0 M305.6 299.2h0 M305.6 265.1h0 M305.6 143.7h0 M305.6 225.8h0 M305.6 296.1h0 M305.6 260.9h0 M305.6 209.6h0 M305.6 233.5h0 M305.6 261.6h0 M305.6 304.7h0 M305.6 198.6h0 M305.6 331.0h0 M305.6 290.7h0 M305.6 277.9h0 M305.6 246.5h0 M305.6 276.5h0 M305.6 289.1h0 M305.6 287.4h0 M305.6 266.0h0 M303.7 267.7h0 M303.7 256.4h0 M303.7 277.5h0 M303.7 265.0h0 M303.7 236.4h0 M303.7 206.4h0 M303.7 253.0h0 M303.7 269.3h0 M303.7 266.5h0 M303.7 270.2h0 M303.7 281.1h0 M303.7 151.2h0 M303.7 241.2h0 M303.7 252.5h0 M303.7 308.4h0 M303.7 234.4h0 M303.7 80.0h0 M303.7 285.5h0 M303.7 242.8h0 M303.7 215.2h0 M303.7 270.9h0 M303.7 267.0h0 M303.7 301.2h0 M303.7 262.4h0 M303.7 188.8h0 M303.7 229.1h0 M303.7 256.8h0 M303.7 288.6h0 M301.7 163.9h0 M301.7 219.3h0 M301.7 269.3h0 M301.7 200.8h0 M301.7 211.5h0 M301.7 212.2h0 M301.7 163.2h0 M301.7 276.4h0 M301.7 45.7h0 M301.7 199.0h0 M301.7 224.0h0 M299.8 220.3h0 M299.8 243.0h0 M299.8 244.7h0 M299.8 221.3h0 M299.8 280.5h0 M299.8 262.2h0 M299.8 226.1h0 M299.8 206.1h0 M299.8 221.0h0 M299.8 309.8h0 M297.8 236.2h0 M297.8 164.7h0 M297.8 227.5h0 M297.8 263.4h0 M297.8 182.5h0 M297.8 212.0h0 M297.8 176.5h0 M297.8 229.7h0 M297.8 192.1h0 M297.8 199.9h0 M297.8 234.0h0 M297.8 195.3h0 M297.8 257.3h0 M297.8 191.1h0 M297.8 268.6h0 M297.8 264.8h0 M297.8 271.2h0 M297.8 228.1h0 M297.8 242.7h0 M297.8 175.6h0 M297.8 240.7h0 M297.8 218.3h0 M297.8 265.5h0 M297.8 242.0h0 M297.8 207.2h0 M297.8 253.1h0 M295.8 155.2h0 M295.8 244.3h0 M295.8 215.3h0 M295.8 262.1h0 M295.8 197.7h0 M295.8 279.3h0 M295.8 223.8h0 M295.8 242.1h0 M295.8 213.8h0 M295.8 211.8h0 M295.8 202.6h0 M295.8 221.1h0 M295.8 243.5h0 M295.8 264.4h0 M295.8 193.3h0 M295.8 293.0h0 M295.8 234.5h0 M295.8 223.1h0 M295.8 252.8h0 M295.8 284.3h0 M295.8 264.1h0 M295.8 248.1h0 M295.8 247.0h0 M295.8 271.9h0 M295.8 251.9h0 M295.8 170.7h0 M295.8 248.8h0 M295.8 224.4h0 M295.8 288.2h0 M295.8 219.3h0 M295.8 207.5h0 M295.8 230.8h0 M295.8 228.1h0 M295.8 232.2h0 M295.8 276.3h0 M295.8 286.2h0 M295.8 262.9h0 M295.8 275.2h0 M295.8 264.9h0 M295.8 238.1h0 M295.8 206.6h0 M295.8 300.9h0 M295.8 147.6h0 M295.8 188.1h0 M295.8 333.1h0 M295.8 132.3h0 M295.8 286.4h0 M295.8 226.4h0 M295.8 256.9h0 M295.8 221.9h0 M295.8 217.1h0 M295.8 280.7h0 M295.8 249.4h0 M295.8 255.3h0 M295.8 242.8h0 M295.8 307.2h0 M295.8 233.8h0 M295.8 260.1h0 M295.8 230.7h0 M295.8 204.1h0 M295.8 165.9h0 M295.8 275.4h0 M295.8 207.1h0 M295.8 211.5h0 M295.8 221.4h0 M295.8 150.0h0 M295.8 277.8h0 M295.8 160.6h0 M295.8 237.4h0 M295.8 232.5h0 M295.8 235.2h0 M295.8 251.4h0 M295.8 202.0h0 M295.8 283.7h0 M295.8 268.0h0 M295.8 201.0h0 M295.8 217.3h0 M295.8 206.2h0 M295.8 152.7h0 M295.8 158.2h0 M295.8 245.9h0 M295.8 270.0h0 M295.8 223.5h0 M295.8 258.9h0 M295.8 236.1h0 M295.8 95.9h0 M295.8 186.9h0 M295.8 258.0h0 M295.8 256.0h0 M295.8 266.9h0 M295.8 269.7h0 M295.8 222.4h0 M295.8 226.2h0 M295.8 220.2h0 M295.8 245.4h0 M295.8 196.1h0 M295.8 210.4h0 M295.8 290.5h0 M295.8 263.5h0 M295.8 164.3h0 M295.8 254.6h0 M295.8 255.0h0 M295.8 266.6h0 M295.8 247.6h0 M295.8 256.5h0 M293.9 166.7h0 M293.9 273.3h0 M293.9 256.7h0 M293.9 284.0h0 M293.9 260.0h0 M293.9 206.4h0 M293.9 228.5h0 M293.9 269.2h0 M293.9 215.2h0 M293.9 221.5h0 M293.9 231.5h0 M293.9 296.3h0 M293.9 267.4h0 M293.9 247.1h0 M293.9 260.6h0 M293.9 265.4h0 M293.9 103.9h0 M293.9 200.5h0 M293.9 181.9h0 M293.9 264.3h0 M293.9 265.9h0 M293.9 240.2h0 M293.9 220.8h0 M293.9 277.4h0 M293.9 203.3h0 M293.9 248.9h0 M293.9 331.6h0 M293.9 181.6h0 M293.9 270.3h0 M293.9 231.8h0 M293.9 238.6h0 M293.9 279.0h0 M293.9 268.6h0 M293.9 253.1h0 M293.9 222.4h0 M293.9 208.3h0 M291.9 285.0h0 M291.9 265.5h0 M291.9 271.5h0 M291.9 247.8h0 M291.9 190.5h0 M291.9 237.6h0 M291.9 236.2h0 M291.9 193.0h0 M291.9 232.9h0 M291.9 258.0h0 M291.9 224.1h0 M291.9 250.0h0 M291.9 268.6h0 M291.9 255.1h0 M289.9 200.2h0 M289.9 184.4h0 M289.9 218.2h0 M289.9 229.9h0 M289.9 259.3h0 M289.9 292.6h0 M289.9 243.2h0 M289.9 208.8h0 M289.9 205.5h0 M288.0 206.1h0 M288.0 164.3h0 M288.0 265.1h0 M288.0 205.6h0 M288.0 271.6h0 M288.0 181.8h0 M288.0 243.5h0 M288.0 323.4h0 M288.0 188.0h0 M288.0 278.0h0 M288.0 262.7h0 M288.0 204.9h0 M288.0 234.9h0 M288.0 280.8h0 M288.0 264.2h0 M288.0 269.9h0 M288.0 246.8h0 M288.0 249.9h0 M288.0 272.6h0 M288.0 181.0h0 M288.0 233.0h0 M288.0 267.2h0 M288.0 303.5h0 M288.0 260.5h0 M288.0 291.6h0 M288.0 235.9h0 M288.0 241.2h0 M288.0 245.5h0 M288.0 253.1h0 M288.0 271.1h0 M286.0 282.3h0 M286.0 228.5h0 M286.0 238.5h0 M286.0 236.7h0 M286.0 238.2h0 M286.0 234.1h0 M286.0 256.2h0 M286.0 255.0h0 M286.0 260.3h0 M286.0 224.4h0 M286.0 248.9h0 M286.0 235.2h0 M286.0 215.0h0 M286.0 212.6h0 M286.0 251.5h0 M286.0 164.7h0 M286.0 202.0h0 M286.0 237.4h0 M286.0 226.9h0 M286.0 177.9h0 M286.0 207.5h0 M286.0 271.6h0 M286.0 83.1h0 M286.0 231.5h0 M286.0 206.1h0 M286.0 191.9h0 M286.0 197.8h0 M286.0 216.9h0 M286.0 271.8h0 M286.0 264.9h0 M286.0 262.6h0 M286.0 162.3h0 M286.0 195.7h0 M286.0 250.3h0 M286.0 274.5h0 M286.0 210.1h0 M286.0 255.4h0 M286.0 100.2h0 M286.0 253.0h0 M286.0 243.8h0 M286.0 243.4h0 M286.0 186.0h0 M286.0 233.1h0 M286.0 210.6h0 M286.0 293.1h0 M286.0 226.3h0 M286.0 232.6h0 M286.0 223.4h0 M286.0 219.8h0 M286.0 246.9h0 M286.0 216.5h0 M286.0 245.3h0 M286.0 185.1h0 M286.0 209.0h0 M286.0 291.6h0 M286.0 231.9h0 M286.0 205.0h0 M286.0 229.0h0 M286.0 288.1h0 M286.0 234.5h0 M286.0 202.8h0 M286.0 200.6h0 M286.0 266.3h0 M286.0 230.2h0 M286.0 254.5h0 M286.0 260.9h0 M286.0 242.5h0 M286.0 235.4h0 M286.0 273.7h0 M286.0 212.0h0 M286.0 264.2h0 M286.0 289.1h0 M286.0 269.5h0 M286.0 322.5h0 M286.0 319.5h0 M286.0 159.4h0 M286.0 169.8h0 M286.0 259.1h0 M286.0 122.5h0 M286.0 194.6h0 M286.0 266.8h0 M286.0 280.6h0 M286.0 300.8h0 M286.0 173.7h0 M286.0 166.2h0 M286.0 282.0h0 M286.0 277.4h0 M286.0 207.1h0 M286.0 150.9h0 M286.0 218.9h0 M286.0 253.9h0 M286.0 235.9h0 M286.0 241.4h0 M286.0 189.8h0 M286.0 250.9h0 M286.0 177.3h0 M286.0 249.9h0 M286.0 248.0h0 M286.0 261.9h0 M286.0 233.6h0 M286.0 196.8h0 M286.0 223.9h0 M284.0 289.6h0 M284.0 248.9h0 M284.0 145.8h0 M284.0 204.1h0 M284.0 285.1h0 M284.0 248.7h0 M284.0 250.0h0 M284.0 233.4h0 M284.0 247.7h0 M284.0 216.1h0 M284.0 227.7h0 M284.0 261.2h0 M284.0 237.8h0 M284.0 251.1h0 M284.0 233.2h0 M284.0 237.4h0 M284.0 279.9h0 M284.0 319.6h0 M284.0 205.7h0 M284.0 265.2h0 M284.0 230.7h0 M284.0 249.5h0 M284.0 278.8h0 M284.0 257.5h0 M284.0 279.5h0 M282.1 236.4h0 M282.1 223.8h0 M282.1 230.2h0 M282.1 220.9h0 M282.1 224.4h0 M282.1 289.5h0 M282.1 288.3h0 M282.1 151.2h0 M282.1 305.2h0 M282.1 201.2h0 M282.1 239.2h0 M282.1 324.0h0 M282.1 233.7h0 M282.1 227.8h0 M282.1 204.8h0 M280.1 256.2h0 M280.1 242.9h0 M280.1 135.3h0 M280.1 186.8h0 M280.1 212.7h0 M280.1 246.4h0 M280.1 188.0h0 M280.1 183.6h0 M280.1 253.4h0 M278.1 235.1h0 M278.1 286.3h0 M278.1 316.0h0 M278.1 176.8h0 M278.1 209.8h0 M278.1 219.6h0 M278.1 226.0h0 M278.1 274.5h0 M278.1 261.7h0 M278.1 234.0h0 M278.1 300.8h0 M278.1 219.9h0 M278.1 213.6h0 M278.1 279.3h0 M278.1 68.8h0 M278.1 245.1h0 M278.1 83.9h0 M278.1 254.5h0 M278.1 227.5h0 M278.1 273.5h0 M278.1 240.4h0 M278.1 202.1h0 M278.1 236.9h0 M278.1 259.6h0 M276.2 262.4h0 M276.2 308.7h0 M276.2 227.8h0 M276.2 265.2h0 M276.2 198.8h0 M276.2 312.3h0 M276.2 236.1h0 M276.2 268.7h0 M276.2 278.4h0 M276.2 225.6h0 M276.2 247.2h0 M276.2 202.6h0 M276.2 284.1h0 M276.2 264.3h0 M276.2 256.2h0 M276.2 185.7h0 M276.2 235.5h0 M276.2 277.9h0 M276.2 211.5h0 M276.2 76.6h0 M276.2 178.4h0 M276.2 229.1h0 M276.2 222.1h0 M276.2 191.3h0 M276.2 203.8h0 M276.2 262.9h0 M276.2 197.8h0 M276.2 228.5h0 M276.2 267.4h0 M276.2 261.5h0 M276.2 229.7h0 M276.2 203.0h0 M276.2 196.0h0 M276.2 271.0h0 M276.2 193.0h0 M276.2 125.5h0 M276.2 175.6h0 M276.2 207.5h0 M276.2 277.4h0 M276.2 252.8h0 M276.2 261.0h0 M276.2 244.9h0 M276.2 316.2h0 M276.2 213.0h0 M276.2 224.2h0 M276.2 271.3h0 M276.2 224.9h0 M276.2 291.6h0 M276.2 171.7h0 M276.2 173.9h0 M276.2 248.8h0 M276.2 232.0h0 M276.2 162.1h0 M276.2 201.1h0 M276.2 114.8h0 M276.2 203.6h0 M276.2 196.5h0 M276.2 276.7h0 M276.2 253.6h0 M276.2 282.6h0 M276.2 236.7h0 M276.2 227.5h0 M276.2 242.1h0 M276.2 258.1h0 M276.2 198.7h0 M276.2 214.9h0 M276.2 268.8h0 M276.2 220.8h0 M276.2 257.1h0 M276.2 206.8h0 M276.2 274.2h0 M276.2 194.6h0 M276.2 205.1h0 M276.2 232.3h0 M276.2 191.2h0 M276.2 204.4h0 M276.2 216.2h0 M276.2 243.8h0 M276.2 273.0h0 M276.2 233.8h0 M276.2 157.6h0 M276.2 256.4h0 M276.2 242.8h0 M276.2 222.7h0 M276.2 243.3h0 M276.2 272.2h0 M276.2 205.5h0 M276.2 165.3h0 M276.2 250.4h0 M276.2 314.7h0 M276.2 134.3h0 M276.2 233.4h0 M276.2 262.0h0 M276.2 266.1h0 M276.2 139.1h0 M276.2 210.0h0 M276.2 267.1h0 M276.2 163.1h0 M276.2 260.5h0 M276.2 247.6h0 M276.2 239.4h0 M276.2 255.0h0 M276.2 219.9h0 M276.2 200.2h0 M274.2 265.6h0 M274.2 296.1h0 M274.2 261.0h0 M274.2 120.1h0 M274.2 282.4h0 M274.2 194.4h0 M274.2 233.0h0 M274.2 190.8h0 M274.2 207.0h0 M274.2 211.3h0 M274.2 305.2h0 M274.2 193.0h0 M274.2 219.9h0 M274.2 242.5h0 M274.2 279.0h0 M274.2 200.8h0 M274.2 175.2h0 M274.2 256.0h0 M274.2 184.6h0 M274.2 246.7h0 M274.2 238.0h0 M274.2 270.1h0 M274.2 227.3h0 M274.2 297.8h0 M274.2 246.9h0 M274.2 246.2h0 M274.2 293.2h0 M272.2 268.3h0 M272.2 133.9h0 M272.2 235.4h0 M272.2 208.4h0 M272.2 282.1h0 M272.2 257.3h0 M272.2 192.7h0 M272.2 243.1h0 M272.2 255.7h0 M272.2 281.0h0 M272.2 259.3h0 M272.2 264.4h0 M272.2 206.8h0 M272.2 280.5h0 M270.3 170.6h0 M270.3 269.4h0 M270.3 209.4h0 M270.3 202.3h0 M270.3 251.9h0 M270.3 291.2h0 M270.3 241.0h0 M270.3 232.2h0 M270.3 235.6h0 M270.3 221.8h0 M270.3 228.1h0 M268.3 227.5h0 M268.3 168.5h0 M268.3 224.5h0 M268.3 259.6h0 M268.3 231.6h0 M268.3 191.9h0 M268.3 189.9h0 M268.3 273.0h0 M268.3 216.7h0 M268.3 264.2h0 M268.3 173.0h0 M268.3 244.9h0 M268.3 254.5h0 M268.3 237.4h0 M268.3 165.3h0 M268.3 229.7h0 M268.3 148.2h0 M268.3 297.1h0 M268.3 247.3h0 M268.3 293.3h0 M268.3 232.6h0 M268.3 184.6h0 M268.3 250.2h0 M268.3 294.7h0 M268.3 206.5h0 M266.4 192.4h0 M266.4 177.9h0 M266.4 277.5h0 M266.4 198.6h0 M266.4 219.5h0 M266.4 139.0h0 M266.4 209.5h0 M266.4 274.5h0 M266.4 223.3h0 M266.4 227.4h0 M266.4 228.2h0 M266.4 207.5h0 M266.4 240.0h0 M266.4 208.8h0 M266.4 243.8h0 M266.4 235.5h0 M266.4 156.8h0 M266.4 262.7h0 M266.4 235.1h0 M266.4 171.8h0 M266.4 260.2h0 M266.4 268.5h0 M266.4 92.8h0 M266.4 219.1h0 M266.4 252.1h0 M266.4 158.8h0 M266.4 250.2h0 M266.4 190.0h0 M266.4 303.5h0 M266.4 171.2h0 M266.4 253.6h0 M266.4 212.4h0 M266.4 232.3h0 M266.4 201.6h0 M266.4 140.4h0 M266.4 245.9h0 M266.4 195.4h0 M266.4 264.6h0 M266.4 278.1h0 M266.4 191.7h0 M266.4 186.3h0 M266.4 232.8h0 M266.4 282.8h0 M266.4 228.4h0 M266.4 113.3h0 M266.4 271.2h0 M266.4 231.8h0 M266.4 225.7h0 M266.4 192.1h0 M266.4 194.8h0 M266.4 248.3h0 M266.4 204.3h0 M266.4 308.6h0 M266.4 293.8h0 M266.4 217.1h0 M266.4 279.2h0 M266.4 173.8h0 M266.4 241.6h0 M266.4 265.8h0 M266.4 242.3h0 M266.4 206.5h0 M266.4 311.4h0 M266.4 249.4h0 M266.4 265.1h0 M266.4 188.3h0 M266.4 226.8h0 M266.4 190.6h0 M266.4 191.0h0 M266.4 238.1h0 M266.4 218.4h0 M266.4 275.1h0 M266.4 208.3h0 M266.4 177.1h0 M266.4 221.5h0 M266.4 254.4h0 M266.4 238.3h0 M266.4 270.3h0 M266.4 132.3h0 M266.4 173.7h0 M266.4 196.4h0 M266.4 255.9h0 M266.4 157.4h0 M266.4 236.3h0 M266.4 219.8h0 M266.4 203.6h0 M266.4 183.7h0 M266.4 291.6h0 M266.4 286.3h0 M266.4 225.2h0 M266.4 267.9h0 M266.4 259.0h0 M266.4 237.3h0 M266.4 243.1h0 M266.4 220.3h0 M266.4 259.4h0 M266.4 187.9h0 M266.4 215.9h0 M266.4 256.5h0 M264.4 264.1h0 M264.4 218.9h0 M264.4 235.2h0 M264.4 167.7h0 M264.4 177.4h0 M264.4 194.3h0 M264.4 264.9h0 M264.4 231.6h0 M264.4 208.1h0 M264.4 234.6h0 M264.4 253.6h0 M264.4 273.3h0 M264.4 242.7h0 M264.4 212.6h0 M264.4 172.1h0 M264.4 235.8h0 M264.4 279.3h0 M264.4 280.0h0 M264.4 262.8h0 M264.4 172.6h0 M264.4 274.2h0 M264.4 237.9h0 M264.4 210.4h0 M264.4 226.2h0 M264.4 115.6h0 M264.4 218.6h0 M264.4 177.1h0 M264.4 220.5h0 M264.4 205.2h0 M264.4 241.8h0 M264.4 98.9h0 M264.4 240.8h0 M264.4 274.5h0 M262.4 153.8h0 M262.4 226.4h0 M262.4 259.8h0 M262.4 172.5h0 M262.4 178.6h0 M262.4 246.5h0 M262.4 172.2h0 M262.4 205.5h0 M262.4 270.1h0 M260.5 267.4h0 M260.5 256.9h0 M260.5 274.7h0 M260.5 205.4h0 M260.5 227.8h0 M260.5 103.2h0 M260.5 226.8h0 M258.5 245.2h0 M258.5 152.8h0 M258.5 201.5h0 M258.5 266.8h0 M258.5 252.9h0 M258.5 276.3h0 M258.5 174.7h0 M258.5 249.5h0 M258.5 180.2h0 M258.5 204.7h0 M258.5 228.2h0 M258.5 240.7h0 M258.5 208.1h0 M258.5 288.9h0 M258.5 232.5h0 M258.5 236.2h0 M258.5 241.0h0 M258.5 234.8h0 M258.5 279.6h0 M258.5 264.3h0 M258.5 251.1h0 M256.5 168.6h0 M256.5 191.9h0 M256.5 205.9h0 M256.5 177.4h0 M256.5 193.5h0 M256.5 234.9h0 M256.5 144.3h0 M256.5 167.6h0 M256.5 247.5h0 M256.5 204.9h0 M256.5 213.4h0 M256.5 196.5h0 M256.5 271.4h0 M256.5 231.9h0 M256.5 287.5h0 M256.5 246.0h0 M256.5 300.7h0 M256.5 221.4h0 M256.5 182.1h0 M256.5 82.3h0 M256.5 221.0h0 M256.5 141.2h0 M256.5 270.4h0 M256.5 212.5h0 M256.5 234.0h0 M256.5 186.8h0 M256.5 186.3h0 M256.5 255.4h0 M256.5 160.3h0 M256.5 276.2h0 M256.5 274.9h0 M256.5 126.3h0 M256.5 265.6h0 M256.5 237.2h0 M256.5 163.3h0 M256.5 240.7h0 M256.5 188.2h0 M256.5 280.2h0 M256.5 270.9h0 M256.5 250.2h0 M256.5 201.9h0 M256.5 214.3h0 M256.5 190.2h0 M256.5 245.7h0 M256.5 225.3h0 M256.5 264.8h0 M256.5 239.2h0 M256.5 184.3h0 M256.5 293.9h0 M256.5 246.4h0 M256.5 268.4h0 M256.5 211.1h0 M256.5 266.9h0 M256.5 291.3h0 M256.5 309.0h0 M256.5 249.0h0 M256.5 264.2h0 M256.5 180.3h0 M256.5 208.8h0 M256.5 253.2h0 M256.5 206.7h0 M256.5 253.7h0 M256.5 289.6h0 M256.5 236.1h0 M256.5 273.8h0 M256.5 287.9h0 M256.5 257.8h0 M256.5 207.3h0 M256.5 195.0h0 M256.5 202.6h0 M256.5 197.7h0 M256.5 258.6h0 M256.5 244.5h0 M256.5 248.1h0 M256.5 306.0h0 M256.5 194.3h0 M256.5 188.6h0 M256.5 288.8h0 M256.5 220.7h0 M256.5 228.3h0 M256.5 188.9h0 M256.5 185.0h0 M256.5 259.2h0 M256.5 175.9h0 M256.5 288.3h0 M256.5 253.8h0 M256.5 262.7h0 M256.5 240.1h0 M256.5 194.1h0 M256.5 201.3h0 M256.5 242.8h0 M256.5 140.7h0 M256.5 259.9h0 M256.5 229.7h0 M254.6 211.1h0 M254.6 320.7h0 M254.6 177.6h0 M254.6 269.7h0 M254.6 225.5h0 M254.6 172.8h0 M254.6 223.1h0 M254.6 224.7h0 M254.6 191.3h0 M254.6 257.7h0 M254.6 246.0h0 M254.6 239.4h0 M254.6 335.3h0 M254.6 176.6h0 M254.6 223.8h0 M254.6 190.6h0 M254.6 176.0h0 M254.6 171.9h0 M254.6 262.7h0 M254.6 192.3h0 M254.6 234.9h0 M254.6 218.7h0 M254.6 203.6h0 M254.6 280.5h0 M254.6 195.8h0 M254.6 248.5h0 M254.6 184.2h0 M254.6 191.0h0 M254.6 293.8h0 M254.6 237.9h0 M254.6 233.1h0 M254.6 140.1h0 M252.6 209.0h0 M252.6 251.5h0 M252.6 203.6h0 M252.6 162.2h0 M250.6 211.1h0 M250.6 230.0h0 M250.6 132.8h0 M250.6 178.0h0 M250.6 261.8h0 M250.6 206.0h0 M250.6 207.4h0 M250.6 278.8h0 M250.6 236.9h0 M248.7 157.0h0 M248.7 208.7h0 M248.7 182.2h0 M248.7 204.1h0 M248.7 255.6h0 M248.7 171.8h0 M248.7 224.8h0 M248.7 281.6h0 M248.7 232.6h0 M248.7 141.9h0 M248.7 242.4h0 M248.7 243.4h0 M248.7 175.3h0 M248.7 248.9h0 M248.7 239.6h0 M248.7 126.1h0 M248.7 242.8h0 M248.7 262.5h0 M248.7 201.6h0 M248.7 252.6h0 M248.7 257.2h0 M248.7 169.3h0 M246.7 271.5h0 M246.7 217.6h0 M246.7 195.0h0 M246.7 222.2h0 M246.7 232.9h0 M246.7 199.1h0 M246.7 275.8h0 M246.7 194.1h0 M246.7 196.6h0 M246.7 250.3h0 M246.7 242.3h0 M246.7 164.0h0 M246.7 173.2h0 M246.7 198.1h0 M246.7 214.9h0 M246.7 292.3h0 M246.7 241.5h0 M246.7 117.0h0 M246.7 222.3h0 M246.7 229.5h0 M246.7 106.5h0 M246.7 189.3h0 M246.7 218.8h0 M246.7 170.6h0 M246.7 225.2h0 M246.7 257.7h0 M246.7 203.8h0 M246.7 228.0h0 M246.7 82.3h0 M246.7 295.0h0 M246.7 223.3h0 M246.7 220.0h0 M246.7 305.4h0 M246.7 211.5h0 M246.7 155.1h0 M246.7 169.9h0 M246.7 246.1h0 M246.7 260.5h0 M246.7 199.4h0 M246.7 169.6h0 M246.7 134.7h0 M246.7 226.6h0 M246.7 210.4h0 M246.7 266.3h0 M246.7 102.1h0 M246.7 262.7h0 M246.7 201.6h0 M246.7 227.2h0 M246.7 154.1h0 M246.7 218.1h0 M246.7 334.2h0 M246.7 216.3h0 M246.7 242.1h0 M246.7 171.9h0 M246.7 304.6h0 M246.7 281.0h0 M246.7 317.5h0 M246.7 212.9h0 M246.7 243.9h0 M246.7 180.3h0 M246.7 249.5h0 M246.7 270.0h0 M246.7 278.7h0 M246.7 238.6h0 M246.7 264.7h0 M246.7 198.5h0 M246.7 215.3h0 M246.7 118.8h0 M246.7 288.9h0 M246.7 205.9h0 M246.7 282.2h0 M246.7 256.0h0 M246.7 230.1h0 M246.7 230.4h0 M246.7 24.2h0 M246.7 181.8h0 M246.7 180.8h0 M246.7 171.2h0 M246.7 253.5h0 M246.7 269.1h0 M246.7 277.4h0 M246.7 250.0h0 M246.7 221.3h0 M246.7 277.2h0 M246.7 137.1h0 M246.7 261.5h0 M246.7 268.7h0 M246.7 292.0h0 M246.7 225.3h0 M246.7 215.8h0 M244.7 175.9h0 M244.7 192.1h0 M244.7 228.1h0 M244.7 237.9h0 M244.7 248.6h0 M244.7 197.2h0 M244.7 183.8h0 M244.7 232.9h0 M244.7 230.7h0 M244.7 197.6h0 M244.7 297.1h0 M244.7 227.5h0 M244.7 156.3h0 M244.7 97.8h0 M244.7 239.4h0 M244.7 133.9h0 M244.7 280.6h0 M244.7 270.6h0 M244.7 262.4h0 M244.7 194.9h0 M244.7 260.8h0 M244.7 224.3h0 M242.8 249.1h0 M242.8 263.5h0 M242.8 182.6h0 M242.8 197.6h0 M242.8 222.6h0 M242.8 263.2h0 M242.8 245.3h0 M242.8 204.7h0 M240.8 202.4h0 M240.8 156.8h0 M240.8 223.8h0 M240.8 289.1h0 M240.8 278.7h0 M240.8 198.1h0 M238.8 216.7h0 M238.8 273.5h0 M238.8 190.9h0 M238.8 213.2h0 M238.8 118.8h0 M238.8 167.3h0 M238.8 176.7h0 M238.8 191.8h0 M238.8 113.1h0 M238.8 217.7h0 M238.8 14.1h0 M238.8 204.8h0 M238.8 184.9h0 M236.9 13.8h0 M236.9 219.5h0 M236.9 229.5h0 M236.9 214.1h0 M236.9 275.4h0 M236.9 248.2h0 M236.9 171.7h0 M236.9 180.0h0 M236.9 177.3h0 M236.9 266.8h0 M236.9 166.2h0 M236.9 200.5h0 M236.9 236.5h0 M236.9 235.1h0 M236.9 208.3h0 M236.9 262.7h0 M236.9 188.2h0 M236.9 254.8h0 M236.9 159.9h0 M236.9 260.1h0 M236.9 256.2h0 M236.9 116.5h0 M236.9 237.3h0 M236.9 219.8h0 M236.9 176.1h0 M236.9 186.0h0 M236.9 184.7h0 M236.9 250.2h0 M236.9 276.9h0 M236.9 102.2h0 M236.9 204.1h0 M236.9 203.1h0 M236.9 232.8h0 M236.9 246.2h0 M236.9 203.4h0 M236.9 163.1h0 M236.9 126.0h0 M236.9 295.9h0 M236.9 226.2h0 M236.9 187.7h0 M236.9 145.8h0 M236.9 240.7h0 M236.9 248.8h0 M236.9 145.7h0 M236.9 239.5h0 M236.9 275.2h0 M236.9 242.6h0 M236.9 265.8h0 M236.9 273.6h0 M236.9 305.8h0 M236.9 154.4h0 M236.9 223.3h0 M236.9 232.5h0 M236.9 221.3h0 M236.9 211.0h0 M236.9 243.5h0 M236.9 228.6h0 M236.9 146.4h0 M236.9 276.2h0 M236.9 233.8h0 M236.9 227.4h0 M236.9 248.3h0 M236.9 250.6h0 M236.9 227.1h0 M236.9 278.8h0 M236.9 172.5h0 M236.9 256.9h0 M234.9 268.1h0 M234.9 262.9h0 M234.9 191.1h0 M234.9 293.1h0 M234.9 219.6h0 M234.9 172.3h0 M234.9 213.2h0 M234.9 257.2h0 M234.9 204.6h0 M234.9 275.0h0 M234.9 196.1h0 M234.9 320.3h0 M234.9 240.7h0 M234.9 210.8h0 M234.9 218.8h0 M234.9 226.2h0 M234.9 263.4h0 M234.9 207.9h0 M234.9 203.5h0 M234.9 189.3h0 M234.9 223.2h0 M234.9 179.2h0 M234.9 241.4h0 M234.9 202.6h0 M234.9 112.8h0 M232.9 111.8h0 M232.9 256.6h0 M232.9 192.3h0 M232.9 150.3h0 M232.9 292.3h0 M232.9 185.0h0 M232.9 215.5h0 M232.9 226.4h0 M232.9 237.0h0 M232.9 244.3h0 M231.0 236.2h0 M231.0 113.5h0 M231.0 217.6h0 M231.0 167.8h0 M231.0 177.3h0 M231.0 183.2h0 M229.0 201.6h0 M229.0 251.2h0 M229.0 250.6h0 M229.0 186.9h0 M229.0 234.3h0 M229.0 210.6h0 M229.0 222.3h0 M229.0 264.1h0 M229.0 248.8h0 M229.0 156.5h0 M229.0 143.2h0 M229.0 283.1h0 M229.0 224.0h0 M229.0 259.4h0 M229.0 254.3h0 M229.0 236.0h0 M229.0 271.4h0 M227.1 183.0h0 M227.1 215.2h0 M227.1 207.0h0 M227.1 156.0h0 M227.1 253.7h0 M227.1 267.0h0 M227.1 163.1h0 M227.1 213.3h0 M227.1 257.6h0 M227.1 107.5h0 M227.1 207.5h0 M227.1 151.5h0 M227.1 202.4h0 M227.1 237.8h0 M227.1 238.4h0 M227.1 121.6h0 M227.1 147.8h0 M227.1 240.4h0 M227.1 148.7h0 M227.1 255.1h0 M227.1 231.8h0 M227.1 297.9h0 M227.1 237.4h0 M227.1 228.3h0 M227.1 206.5h0 M227.1 145.4h0 M227.1 216.2h0 M227.1 134.5h0 M227.1 205.1h0 M227.1 165.2h0 M227.1 193.6h0 M227.1 170.4h0 M227.1 163.9h0 M227.1 278.1h0 M227.1 203.6h0 M227.1 222.5h0 M227.1 247.0h0 M227.1 307.1h0 M227.1 120.9h0 M227.1 255.6h0 M227.1 269.2h0 M227.1 218.5h0 M227.1 235.3h0 M227.1 306.0h0 M227.1 237.0h0 M227.1 281.1h0 M227.1 139.1h0 M227.1 239.2h0 M227.1 126.5h0 M227.1 188.4h0 M227.1 229.3h0 M227.1 175.3h0 M227.1 196.0h0 M227.1 200.4h0 M227.1 265.9h0 M227.1 200.9h0 M227.1 193.8h0 M227.1 173.6h0 M227.1 166.6h0 M227.1 157.6h0 M227.1 199.7h0 M227.1 245.3h0 M227.1 241.6h0 M227.1 269.9h0 M227.1 256.1h0 M227.1 132.6h0 M227.1 178.3h0 M227.1 148.9h0 M227.1 213.9h0 M227.1 131.2h0 M227.1 212.3h0 M227.1 293.7h0 M227.1 67.3h0 M227.1 230.8h0 M225.1 233.7h0 M225.1 297.2h0 M225.1 188.3h0 M225.1 268.8h0 M225.1 216.1h0 M225.1 335.6h0 M225.1 221.8h0 M225.1 242.1h0 M225.1 257.6h0 M225.1 210.9h0 M225.1 202.8h0 M225.1 254.1h0 M225.1 295.6h0 M225.1 240.5h0 M225.1 226.1h0 M225.1 269.4h0 M225.1 254.7h0 M225.1 220.9h0 M225.1 257.2h0 M225.1 137.2h0 M225.1 194.5h0 M225.1 277.4h0 M223.1 137.8h0 M223.1 150.2h0 M223.1 94.3h0 M223.1 222.6h0 M223.1 191.8h0 M223.1 245.4h0 M221.2 179.6h0 M221.2 139.1h0 M221.2 187.9h0 M221.2 120.7h0 M221.2 183.2h0 M219.2 255.6h0 M219.2 176.0h0 M219.2 243.3h0 M219.2 154.9h0 M219.2 109.7h0 M219.2 176.6h0 M219.2 171.2h0 M219.2 171.9h0 M219.2 171.4h0 M219.2 335.4h0 M219.2 232.8h0 M219.2 210.4h0 M219.2 204.2h0 M219.2 148.1h0 M219.2 76.5h0 M219.2 239.5h0 M219.2 175.1h0 M219.2 199.6h0 M219.2 235.8h0 M217.2 197.9h0 M217.2 204.0h0 M217.2 200.6h0 M217.2 236.5h0 M217.2 145.0h0 M217.2 177.1h0 M217.2 184.0h0 M217.2 164.9h0 M217.2 172.3h0 M217.2 178.6h0 M217.2 201.6h0 M217.2 213.6h0 M217.2 175.8h0 M217.2 157.6h0 M217.2 206.1h0 M217.2 284.2h0 M217.2 84.2h0 M217.2 221.8h0 M217.2 220.9h0 M217.2 193.5h0 M217.2 91.4h0 M217.2 210.4h0 M217.2 257.5h0 M217.2 189.5h0 M217.2 127.4h0 M217.2 274.4h0 M217.2 296.4h0 M217.2 214.4h0 M217.2 68.6h0 M217.2 95.9h0 M217.2 211.6h0 M217.2 139.1h0 M217.2 101.3h0 M217.2 129.6h0 M217.2 84.7h0 M217.2 245.6h0 M217.2 212.1h0 M217.2 207.7h0 M217.2 256.9h0 M217.2 232.0h0 M217.2 251.0h0 M217.2 161.7h0 M217.2 242.4h0 M217.2 183.6h0 M217.2 170.6h0 M217.2 279.9h0 M217.2 229.5h0 M217.2 250.4h0 M217.2 171.1h0 M217.2 169.6h0 M217.2 286.6h0 M217.2 155.5h0 M217.2 145.3h0 M217.2 144.3h0 M217.2 158.6h0 M217.2 147.5h0 M217.2 122.4h0 M217.2 250.1h0 M217.2 208.6h0 M217.2 155.2h0 M217.2 197.2h0 M217.2 117.7h0 M217.2 172.1h0 M217.2 223.3h0 M217.2 174.1h0 M217.2 293.3h0 M217.2 277.5h0 M215.3 165.9h0 M215.3 228.8h0 M215.3 161.3h0 M215.3 213.0h0 M215.3 194.6h0 M215.3 189.4h0 M215.3 193.2h0 M215.3 215.6h0 M215.3 310.5h0 M215.3 205.3h0 M215.3 197.3h0 M215.3 241.5h0 M215.3 136.9h0 M215.3 320.5h0 M215.3 245.1h0 M215.3 234.0h0 M215.3 323.4h0 M215.3 185.1h0 M215.3 302.8h0 M213.3 161.5h0 M213.3 265.6h0 M213.3 163.7h0 M213.3 269.6h0 M213.3 237.7h0 M213.3 127.4h0 M211.3 202.1h0 M211.3 222.9h0 M209.4 146.5h0 M209.4 133.8h0 M209.4 170.1h0 M209.4 206.4h0 M209.4 153.9h0 M209.4 261.1h0 M209.4 291.6h0 M209.4 228.6h0 M209.4 171.3h0 M209.4 185.5h0 M209.4 159.1h0 M207.4 172.9h0 M207.4 151.5h0 M207.4 199.4h0 M207.4 147.6h0 M207.4 290.3h0 M207.4 203.3h0 M207.4 140.1h0 M207.4 175.9h0 M207.4 206.2h0 M207.4 270.3h0 M207.4 80.7h0 M207.4 202.8h0 M207.4 207.4h0 M207.4 82.9h0 M207.4 180.1h0 M207.4 243.5h0 M207.4 189.9h0 M207.4 214.8h0 M207.4 167.5h0 M207.4 284.3h0 M207.4 227.0h0 M207.4 200.2h0 M207.4 160.8h0 M207.4 201.1h0 M207.4 219.3h0 M207.4 165.7h0 M207.4 185.4h0 M207.4 127.7h0 M207.4 187.0h0 M207.4 165.0h0 M207.4 146.8h0 M207.4 194.0h0 M207.4 256.6h0 M207.4 133.2h0 M207.4 155.7h0 M207.4 107.6h0 M207.4 227.6h0 M207.4 208.7h0 M207.4 202.5h0 M207.4 278.5h0 M207.4 264.9h0 M207.4 162.9h0 M207.4 171.8h0 M207.4 137.0h0 M207.4 257.8h0 M207.4 192.2h0 M207.4 130.0h0 M207.4 262.5h0 M207.4 251.5h0 M207.4 293.2h0 M207.4 265.3h0 M207.4 276.5h0 M207.4 128.2h0 M207.4 183.9h0 M207.4 152.7h0 M207.4 145.4h0 M207.4 260.8h0 M207.4 213.0h0 M207.4 230.0h0 M207.4 197.2h0 M207.4 159.4h0 M207.4 138.9h0 M207.4 181.3h0 M207.4 246.2h0 M207.4 177.7h0 M207.4 135.4h0 M207.4 179.2h0 M207.4 189.0h0 M207.4 63.9h0 M207.4 216.7h0 M207.4 149.1h0 M205.4 288.9h0 M205.4 226.9h0 M205.4 273.6h0 M205.4 195.6h0 M205.4 45.5h0 M205.4 264.1h0 M205.4 156.8h0 M205.4 257.1h0 M205.4 132.8h0 M205.4 248.1h0 M205.4 194.4h0 M205.4 210.3h0 M205.4 197.4h0 M205.4 229.8h0 M205.4 204.6h0 M205.4 67.1h0 M205.4 233.8h0 M205.4 239.7h0 M205.4 144.2h0 M203.5 115.3h0 M203.5 226.5h0 M203.5 290.8h0 M203.5 207.4h0 M203.5 226.2h0 M201.5 220.6h0 M201.5 187.5h0 M201.5 231.8h0 M199.5 207.0h0 M199.5 65.1h0 M199.5 252.6h0 M199.5 246.0h0 M199.5 41.6h0 M199.5 211.9h0 M199.5 195.4h0 M199.5 219.7h0 M199.5 118.5h0 M199.5 191.6h0 M199.5 203.0h0 M199.5 173.1h0 M199.5 135.6h0 M199.5 81.6h0 M199.5 216.0h0 M197.6 75.4h0 M197.6 234.8h0 M197.6 185.2h0 M197.6 130.7h0 M197.6 243.2h0 M197.6 183.2h0 M197.6 146.2h0 M197.6 262.9h0 M197.6 249.1h0 M197.6 91.6h0 M197.6 244.2h0 M197.6 157.7h0 M197.6 113.4h0 M197.6 168.2h0 M197.6 256.2h0 M197.6 238.0h0 M197.6 200.9h0 M197.6 90.8h0 M197.6 138.1h0 M197.6 209.6h0 M197.6 224.5h0 M197.6 241.6h0 M197.6 181.3h0 M197.6 212.1h0 M197.6 221.2h0 M197.6 273.9h0 M197.6 163.3h0 M197.6 199.5h0 M197.6 206.5h0 M197.6 184.4h0 M197.6 207.6h0 M197.6 130.1h0 M197.6 226.1h0 M197.6 186.7h0 M197.6 236.3h0 M197.6 201.9h0 M197.6 205.5h0 M197.6 161.7h0 M197.6 170.5h0 M197.6 235.7h0 M197.6 225.0h0 M197.6 166.5h0 M197.6 259.5h0 M197.6 175.4h0 M197.6 188.9h0 M197.6 139.3h0 M197.6 183.8h0 M197.6 87.8h0 M197.6 210.4h0 M197.6 145.0h0 M197.6 197.9h0 M197.6 233.6h0 M197.6 140.0h0 M197.6 183.3h0 M195.6 176.6h0 M195.6 284.9h0 M195.6 90.1h0 M195.6 173.3h0 M195.6 34.0h0 M195.6 171.6h0 M195.6 202.5h0 M195.6 262.7h0 M195.6 164.2h0 M195.6 161.8h0 M195.6 159.5h0 M195.6 158.1h0 M193.6 209.9h0 M193.6 181.5h0 M191.7 252.8h0 M191.7 178.5h0 M191.7 219.0h0 M191.7 219.9h0 M191.7 144.3h0 M191.7 221.6h0 M191.7 118.6h0 M189.7 67.0h0 M189.7 153.6h0 M189.7 300.2h0 M189.7 231.5h0 M189.7 85.6h0 M189.7 227.1h0 M189.7 161.1h0 M189.7 119.7h0 M189.7 116.9h0 M189.7 216.0h0 M189.7 187.5h0 M189.7 220.4h0 M189.7 138.1h0 M189.7 274.9h0 M187.8 319.9h0 M187.8 180.4h0 M187.8 229.5h0 M187.8 213.8h0 M187.8 96.2h0 M187.8 102.5h0 M187.8 59.4h0 M187.8 238.8h0 M187.8 184.1h0 M187.8 193.2h0 M187.8 204.9h0 M187.8 246.4h0 M187.8 174.5h0 M187.8 146.1h0 M187.8 159.5h0 M187.8 149.9h0 M187.8 195.1h0 M187.8 242.3h0 M187.8 217.1h0 M187.8 243.5h0 M187.8 155.4h0 M187.8 225.4h0 M187.8 147.5h0 M187.8 264.3h0 M187.8 236.9h0 M187.8 199.4h0 M187.8 129.1h0 M187.8 190.3h0 M187.8 257.9h0 M187.8 172.7h0 M187.8 78.5h0 M187.8 169.9h0 M187.8 208.3h0 M187.8 158.5h0 M187.8 149.6h0 M187.8 104.6h0 M187.8 334.5h0 M187.8 227.3h0 M187.8 254.7h0 M187.8 120.4h0 M187.8 128.0h0 M187.8 232.4h0 M187.8 146.6h0 M187.8 240.5h0 M187.8 74.5h0 M187.8 152.4h0 M187.8 264.8h0 M187.8 191.0h0 M187.8 61.0h0 M187.8 269.4h0 M187.8 93.0h0 M187.8 193.9h0 M187.8 162.0h0 M187.8 289.5h0 M187.8 224.9h0 M187.8 118.0h0 M187.8 93.8h0 M187.8 196.1h0 M187.8 159.1h0 M187.8 283.8h0 M187.8 151.8h0 M187.8 234.1h0 M187.8 247.6h0 M187.8 218.6h0 M187.8 153.5h0 M187.8 278.7h0 M187.8 177.9h0 M187.8 99.0h0 M187.8 188.7h0 M187.8 194.6h0 M187.8 242.1h0 M187.8 335.1h0 M187.8 144.7h0 M187.8 222.1h0 M187.8 187.6h0 M187.8 113.4h0 M187.8 170.9h0 M187.8 256.6h0 M187.8 233.7h0 M187.8 86.4h0 M187.8 217.9h0 M187.8 297.5h0 M185.8 251.2h0 M185.8 181.9h0 M185.8 202.0h0 M185.8 196.4h0 M185.8 268.1h0 M185.8 99.3h0 M185.8 77.4h0 M185.8 232.9h0 M185.8 171.5h0 M185.8 186.7h0 M183.8 230.8h0 M183.8 91.5h0 M181.9 212.6h0 M181.9 174.0h0 M181.9 187.5h0 M181.9 94.3h0 M181.9 216.8h0 M181.9 128.0h0 M179.9 218.5h0 M179.9 118.6h0 M179.9 156.3h0 M179.9 236.5h0 M179.9 153.1h0 M179.9 189.3h0 M179.9 217.4h0 M177.9 80.7h0 M177.9 182.3h0 M177.9 136.8h0 M177.9 239.8h0 M177.9 120.3h0 M177.9 123.1h0 M177.9 249.0h0 M177.9 174.9h0 M177.9 244.7h0 M177.9 145.0h0 M177.9 276.8h0 M177.9 175.8h0 M177.9 170.4h0 M177.9 87.5h0 M177.9 130.1h0 M177.9 227.6h0 M177.9 201.7h0 M177.9 97.5h0 M177.9 165.8h0 M177.9 197.9h0 M177.9 116.0h0 M177.9 167.9h0 M177.9 223.3h0 M177.9 219.1h0 M177.9 73.2h0 M177.9 325.9h0 M176.0 196.6h0 M176.0 236.2h0 M176.0 234.4h0 M176.0 95.8h0 M176.0 192.1h0 M176.0 64.0h0 M176.0 73.7h0 M174.0 101.7h0 M174.0 64.5h0 M174.0 209.0h0 M174.0 162.5h0 M174.0 256.5h0 M174.0 102.1h0 M172.0 204.0h0 M172.0 172.6h0 M172.0 157.5h0 M172.0 186.3h0 M170.1 189.4h0 M170.1 111.5h0 M170.1 92.3h0 M170.1 179.1h0 M168.1 65.1h0 M168.1 214.6h0 M168.1 160.5h0 M168.1 122.3h0 M168.1 110.6h0 M168.1 149.7h0 M168.1 208.2h0 M168.1 187.0h0 M168.1 27.5h0 M168.1 157.6h0 M168.1 207.3h0 M168.1 261.3h0 M168.1 177.6h0 M168.1 295.8h0 M168.1 76.3h0 M168.1 201.8h0 M168.1 216.2h0 M168.1 123.8h0 M168.1 153.0h0 M168.1 173.0h0 M168.1 215.0h0 M168.1 304.9h0 M168.1 225.7h0 M168.1 142.7h0 M168.1 212.2h0 M168.1 258.8h0 M168.1 183.3h0 M168.1 199.2h0 M168.1 157.0h0 M168.1 114.4h0 M168.1 18.2h0 M168.1 146.5h0 M168.1 143.5h0 M168.1 154.7h0 M168.1 89.2h0 M168.1 191.3h0 M168.1 153.3h0 M168.1 43.8h0 M168.1 77.0h0 M168.1 147.1h0 M168.1 263.7h0 M168.1 188.1h0 M168.1 218.6h0 M168.1 98.5h0 M168.1 50.7h0 M168.1 189.6h0 M168.1 196.7h0 M168.1 145.7h0 M168.1 144.2h0 M168.1 64.2h0 M168.1 142.0h0 M168.1 54.2h0 M168.1 232.5h0 M168.1 275.9h0 M168.1 97.4h0 M168.1 171.7h0 M168.1 216.9h0 M166.1 180.0h0 M166.1 27.1h0 M166.1 131.0h0 M166.1 127.9h0 M166.1 241.2h0 M166.1 315.2h0 M164.2 211.5h0 M164.2 105.8h0 M164.2 156.0h0 M162.2 106.7h0 M162.2 16.1h0 M162.2 162.6h0 M162.2 107.1h0 M162.2 121.8h0 M160.2 288.1h0 M160.2 163.5h0 M160.2 203.0h0 M158.3 146.7h0 M158.3 206.4h0 M158.3 224.0h0 M158.3 191.5h0 M158.3 160.0h0 M158.3 211.8h0 M158.3 119.8h0 M158.3 151.3h0 M158.3 164.3h0 M158.3 115.3h0 M158.3 207.3h0 M158.3 170.8h0 M158.3 192.1h0 M156.3 132.2h0 M156.3 219.6h0 M156.3 147.3h0 M156.3 198.9h0 M156.3 211.5h0 M156.3 82.2h0 M154.3 291.5h0 M152.4 132.5h0 M150.4 69.3h0 M150.4 195.8h0 M148.4 117.2h0 M148.4 284.0h0 M148.4 154.9h0 M148.4 182.2h0 M148.4 245.3h0 M148.4 173.9h0 M148.4 255.3h0 M148.4 111.8h0 M148.4 127.1h0 M148.4 209.2h0 M148.4 148.4h0 M148.4 81.8h0 M148.4 141.3h0 M148.4 181.3h0 M148.4 65.6h0 M148.4 84.4h0 M148.4 186.7h0 M148.4 235.2h0 M148.4 69.2h0 M148.4 168.0h0 M148.4 149.1h0 M148.4 104.5h0 M148.4 189.3h0 M148.4 209.7h0 M148.4 207.4h0 M148.4 244.8h0 M148.4 127.9h0 M148.4 242.7h0 M148.4 108.3h0 M148.4 284.6h0 M148.4 202.5h0 M148.4 287.7h0 M148.4 121.7h0 M148.4 295.6h0 M148.4 166.1h0 M148.4 154.1h0 M148.4 161.8h0 M148.4 104.1h0 M148.4 175.4h0 M148.4 189.8h0 M148.4 126.0h0 M148.4 206.7h0 M148.4 86.6h0 M148.4 68.3h0 M148.4 204.5h0 M148.4 70.9h0 M148.4 191.9h0 M148.4 98.2h0 M148.4 208.1h0 M148.4 212.9h0 M148.4 128.6h0 M148.4 123.0h0 M148.4 158.7h0 M148.4 141.0h0 M148.4 100.4h0 M148.4 55.9h0 M148.4 227.6h0 M148.4 218.4h0 M146.5 138.6h0 M146.5 288.7h0 M146.5 112.4h0 M146.5 126.7h0 M146.5 145.5h0 M146.5 47.2h0 M146.5 37.1h0 M146.5 245.8h0 M144.5 23.4h0 M144.5 268.0h0 M144.5 59.7h0 M144.5 97.6h0 M142.6 200.6h0 M140.6 138.2h0 M140.6 295.9h0 M140.6 130.1h0 M140.6 175.4h0 M140.6 136.8h0 M140.6 215.1h0 M138.6 150.8h0 M138.6 225.6h0 M138.6 113.1h0 M138.6 196.6h0 M138.6 160.0h0 M138.6 140.6h0 M138.6 57.3h0 M138.6 114.1h0 M136.7 39.0h0 M136.7 253.9h0 M136.7 135.3h0 M134.7 65.9h0 M134.7 198.7h0 M134.7 158.8h0 M134.7 202.7h0 M134.7 183.0h0 M132.7 212.0h0 M132.7 147.6h0 M132.7 220.0h0 M130.8 63.9h0 M130.8 154.6h0 M130.8 72.2h0 M130.8 298.6h0 M130.8 177.1h0 M130.8 162.3h0 M128.8 219.1h0 M128.8 178.5h0 M128.8 39.0h0 M128.8 141.1h0 M128.8 200.2h0 M128.8 171.9h0 M128.8 50.4h0 M128.8 184.8h0 M128.8 111.9h0 M128.8 104.7h0 M128.8 139.5h0 M128.8 141.3h0 M128.8 120.4h0 M128.8 121.9h0 M128.8 110.0h0 M128.8 155.4h0 M128.8 109.5h0 M128.8 111.1h0 M128.8 116.5h0 M128.8 181.9h0 M128.8 63.4h0 M128.8 133.3h0 M128.8 92.5h0 M128.8 37.3h0 M128.8 201.0h0 M128.8 186.7h0 M128.8 147.7h0 M128.8 186.9h0 M128.8 75.4h0 M128.8 237.8h0 M128.8 132.4h0 M128.8 137.6h0 M126.8 110.5h0 M126.8 165.0h0 M124.9 108.6h0 M124.9 125.3h0 M124.9 253.3h0 M124.9 69.4h0 M122.9 88.6h0 M122.9 25.9h0 M120.9 65.7h0 M120.9 232.0h0 M120.9 99.0h0 M120.9 119.7h0 M119.0 17.8h0 M119.0 116.3h0 M119.0 217.7h0 M119.0 110.5h0 M119.0 153.9h0 M119.0 297.3h0 M119.0 172.7h0 M119.0 153.4h0 M119.0 145.9h0 M117.0 60.8h0 M117.0 148.5h0 M117.0 154.0h0 M115.0 234.5h0 M115.0 90.2h0 M115.0 127.6h0 M113.1 200.2h0 M113.1 85.6h0 M111.1 139.5h0 M111.1 151.7h0 M109.2 197.9h0 M109.2 26.2h0 M109.2 153.0h0 M109.2 161.0h0 M109.2 220.1h0 M109.2 21.6h0 M109.2 184.8h0 M109.2 230.0h0 M109.2 158.2h0 M109.2 82.3h0 M109.2 82.2h0 M109.2 45.7h0 M109.2 139.4h0 M109.2 54.7h0 M109.2 147.1h0 M109.2 60.7h0 M109.2 202.1h0 M109.2 242.4h0 M109.2 86.9h0 M109.2 96.2h0 M109.2 32.8h0 M109.2 98.3h0 M109.2 79.8h0 M109.2 110.7h0 M109.2 92.6h0 M109.2 93.9h0 M107.2 244.7h0 M107.2 109.7h0 M107.2 142.3h0 M105.2 145.8h0 M105.2 192.8h0 M105.2 39.0h0 M105.2 102.6h0 M105.2 240.5h0 M103.3 31.8h0 M103.3 50.2h0 M103.3 101.6h0 M101.3 146.9h0 M101.3 53.4h0 M101.3 209.9h0 M101.3 201.9h0 M101.3 94.2h0 M101.3 148.2h0 M99.3 174.7h0 M99.3 74.5h0 M99.3 7.9h0 M99.3 136.1h0 M99.3 152.0h0 M99.3 198.2h0 M99.3 181.1h0 M97.4 153.1h0 M95.4 56.3h0 M95.4 138.4h0 M93.4 62.5h0 M93.4 17.3h0 M93.4 229.2h0 M91.5 110.8h0 M91.5 97.2h0 M89.5 251.4h0 M89.5 139.4h0 M89.5 175.0h0 M89.5 194.2h0 M89.5 181.7h0 M89.5 264.3h0 M89.5 109.3h0 M89.5 131.7h0 M89.5 112.7h0 M89.5 141.5h0 M89.5 150.0h0 M89.5 151.9h0 M89.5 170.9h0 M89.5 153.7h0 M89.5 134.2h0 M89.5 186.0h0 M89.5 228.9h0 M89.5 160.5h0 M89.5 188.8h0 M89.5 182.0h0 M89.5 40.2h0 M89.5 147.8h0 M89.5 207.0h0 M89.5 38.4h0 M89.5 67.5h0 M89.5 63.8h0 M89.5 217.0h0 M89.5 243.0h0 M89.5 73.4h0 M89.5 266.2h0 M89.5 87.7h0 M89.5 172.6h0 M89.5 58.1h0 M89.5 175.5h0" stroke="#17b917" stroke-width="4.1" stroke-linecap="round" fill="none"/>
<defs><radialGradient id="bg" cx="0.38" cy="0.32" r="0.7"><stop offset="0" stop-color="#b8d4ff"/><stop offset="0.28" stop-color="#3478ee"/><stop offset="0.72" stop-color="#1852cc"/><stop offset="1" stop-color="#0a2c88"/></radialGradient></defs>
<g fill="url(#bg)"><circle cx="163.7" cy="149.4" r="3.9"/><circle cx="138.5" cy="240.5" r="3.9"/><circle cx="187.0" cy="234.7" r="3.9"/><circle cx="187.0" cy="247.0" r="3.9"/><circle cx="108.7" cy="281.3" r="3.9"/><circle cx="136.5" cy="282.2" r="3.9"/><circle cx="187.0" cy="279.2" r="3.9"/><circle cx="148.3" cy="297.8" r="3.9"/><circle cx="148.3" cy="308.6" r="3.9"/><circle cx="234.3" cy="277.2" r="3.9"/><circle cx="207.2" cy="289.0" r="3.9"/><circle cx="246.6" cy="313.3" r="3.9"/><circle cx="246.6" cy="319.5" r="3.9"/><circle cx="207.1" cy="333.9" r="3.9"/><circle cx="285.7" cy="290.8" r="3.9"/><circle cx="285.7" cy="300.9" r="3.9"/><circle cx="324.8" cy="271.7" r="3.9"/><circle cx="344.5" cy="271.2" r="3.9"/><circle cx="315.2" cy="286.3" r="3.9"/><circle cx="324.8" cy="297.2" r="3.9"/><circle cx="383.7" cy="290.0" r="3.9"/><circle cx="383.7" cy="295.8" r="3.9"/><circle cx="364.0" cy="302.5" r="3.9"/><circle cx="364.0" cy="307.0" r="3.9"/><circle cx="364.0" cy="311.0" r="3.9"/><circle cx="305.6" cy="310.0" r="3.9"/><circle cx="374.5" cy="310.5" r="3.9"/><circle cx="364.1" cy="323.3" r="3.9"/><circle cx="437.1" cy="283.9" r="3.9"/><circle cx="432.9" cy="289.8" r="3.9"/><circle cx="393.7" cy="298.0" r="3.9"/><circle cx="393.7" cy="304.7" r="3.9"/><circle cx="403.7" cy="300.3" r="3.9"/><circle cx="413.5" cy="301.3" r="3.9"/><circle cx="423.5" cy="302.5" r="3.9"/><circle cx="427.3" cy="315.5" r="3.9"/><circle cx="462.3" cy="307.5" r="3.9"/><circle cx="481.6" cy="306.0" r="3.9"/><circle cx="481.6" cy="313.0" r="3.9"/><circle cx="481.6" cy="319.0" r="3.9"/><circle cx="503.6" cy="273.0" r="3.9"/><circle cx="492.0" cy="311.6" r="3.9"/><circle cx="501.3" cy="313.0" r="3.9"/><circle cx="501.3" cy="323.5" r="3.9"/><circle cx="531.1" cy="312.0" r="3.9"/><circle cx="540.4" cy="334.7" r="3.9"/><circle cx="560.3" cy="315.2" r="3.9"/><circle cx="560.3" cy="321.7" r="3.9"/><circle cx="560.3" cy="333.4" r="3.9"/><circle cx="570.4" cy="320.8" r="3.9"/><circle cx="570.4" cy="334.2" r="3.9"/><circle cx="580.5" cy="336.7" r="3.9"/><circle cx="600.1" cy="327.1" r="3.9"/><circle cx="600.1" cy="333.2" r="3.9"/><circle cx="629.4" cy="331.5" r="3.9"/></g>
<path d="M89.8 169L603.7 344.6" stroke="#0d6b0d" stroke-width="3" fill="none"/>
<path d="M109.5 265.5L630 332.5" stroke="#0a0a80" stroke-width="3.2" fill="none"/>
<text x="605.2" y="36" font-size="27" fill="#111">PDB</text>
<text x="288.2" y="413.7" font-size="26.7" fill="#111">Resolution (Å)</text>
<text transform="translate(23.3,221.8) rotate(-90)" font-size="25" fill="#111">B<tspan dx="3.8">(</tspan><tspan dx="2">Å</tspan><tspan font-size="16.5" dy="-9.5">2</tspan><tspan dx="1.2" dy="9.5">)</tspan></text>
</svg>
</body></html>
